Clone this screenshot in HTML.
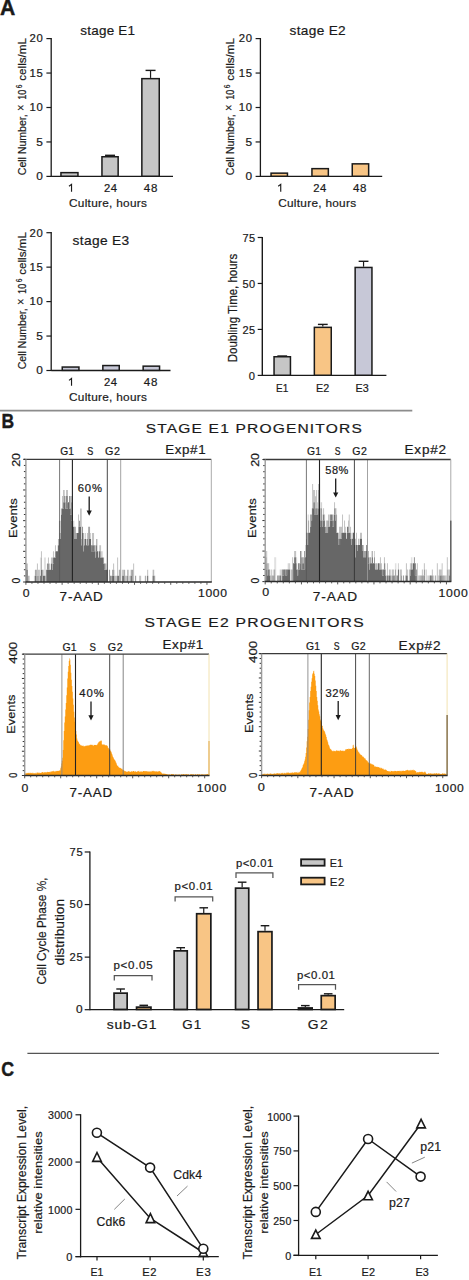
<!DOCTYPE html>
<html><head><meta charset="utf-8"><style>
html,body{margin:0;padding:0;background:#fff;}
svg{display:block;font-family:"Liberation Sans", sans-serif;}
text{stroke:#1a1a1a;stroke-width:0.2px;}
.hb text{stroke-width:0.2px;}
.b45 text{stroke-width:0.45px;}
.b40 text{stroke-width:0.4px;}
</style></head><body>
<svg width="469" height="1280" viewBox="0 0 469 1280">
<rect width="469" height="1280" fill="#fff"/>
<g class="b45">
<text x="0" y="15.4" font-size="22" fill="#1a1a1a" font-weight="bold" textLength="15.25" lengthAdjust="spacingAndGlyphs">A</text>
</g>
<line x1="51.2" y1="38" x2="51.2" y2="177" stroke="#1a1a1a" stroke-width="1.3"/>
<line x1="51.2" y1="176.4" x2="173" y2="176.4" stroke="#1a1a1a" stroke-width="1.3"/>
<line x1="46.4" y1="176.4" x2="51.2" y2="176.4" stroke="#1a1a1a" stroke-width="1.2"/>
<text x="36.2" y="180.2" font-size="10.5" fill="#1a1a1a" textLength="6.61" lengthAdjust="spacingAndGlyphs">0</text>
<line x1="46.4" y1="141.95" x2="51.2" y2="141.95" stroke="#1a1a1a" stroke-width="1.2"/>
<text x="36.2" y="145.75" font-size="10.5" fill="#1a1a1a" textLength="6.61" lengthAdjust="spacingAndGlyphs">5</text>
<line x1="46.4" y1="107.5" x2="51.2" y2="107.5" stroke="#1a1a1a" stroke-width="1.2"/>
<text x="29.6" y="111.3" font-size="10.5" fill="#1a1a1a" textLength="13.89" lengthAdjust="spacingAndGlyphs" letter-spacing="0.62">10</text>
<line x1="46.4" y1="73.05" x2="51.2" y2="73.05" stroke="#1a1a1a" stroke-width="1.2"/>
<text x="29.6" y="76.85" font-size="10.5" fill="#1a1a1a" textLength="13.89" lengthAdjust="spacingAndGlyphs" letter-spacing="0.62">15</text>
<line x1="46.4" y1="38.6" x2="51.2" y2="38.6" stroke="#1a1a1a" stroke-width="1.2"/>
<text x="29.6" y="42.4" font-size="10.5" fill="#1a1a1a" textLength="13.89" lengthAdjust="spacingAndGlyphs" letter-spacing="0.62">20</text>
<rect x="60.95" y="172.65" width="17" height="3.6" fill="#c6c6c6" stroke="#1a1a1a" stroke-width="1.5"/>
<line x1="110.05" y1="156" x2="110.05" y2="155.3" stroke="#1a1a1a" stroke-width="1.2"/>
<line x1="105.05" y1="155.3" x2="115.05" y2="155.3" stroke="#1a1a1a" stroke-width="1.4"/>
<rect x="101.95" y="156.75" width="16.2" height="19.5" fill="#c6c6c6" stroke="#1a1a1a" stroke-width="1.5"/>
<line x1="150.55" y1="77.9" x2="150.55" y2="70.4" stroke="#1a1a1a" stroke-width="1.2"/>
<line x1="145.55" y1="70.4" x2="155.55" y2="70.4" stroke="#1a1a1a" stroke-width="1.4"/>
<rect x="141.85" y="78.65" width="17.4" height="97.6" fill="#c6c6c6" stroke="#1a1a1a" stroke-width="1.5"/>
<path d="M71.53,191.7 V184.4 L69,186.3" fill="none" stroke="#1a1a1a" stroke-width="1.15" stroke-linejoin="miter"/>
<text x="104.1" y="191.7" font-size="10.6" fill="#1a1a1a" textLength="13.55" lengthAdjust="spacingAndGlyphs" letter-spacing="0.49">24</text>
<text x="143.7" y="191.7" font-size="10.6" fill="#1a1a1a" textLength="14.43" lengthAdjust="spacingAndGlyphs" letter-spacing="0.73">48</text>
<text x="69" y="206.7" font-size="11" fill="#1a1a1a" textLength="78.2" lengthAdjust="spacingAndGlyphs" letter-spacing="0.27">Culture, hours</text>
<text x="80.3" y="35" font-size="12.9" fill="#1a1a1a" textLength="54.96" lengthAdjust="spacingAndGlyphs" letter-spacing="0.22">stage E1</text>
<text transform="translate(25.7,175.2) rotate(-90)" x="-0" font-size="11.6" fill="#1a1a1a" textLength="60.9" lengthAdjust="spacingAndGlyphs">Cell Number,</text>
<text transform="translate(24.8,110.9) rotate(-90)" x="-0" font-size="12.5" fill="#1a1a1a" textLength="6.49" lengthAdjust="spacingAndGlyphs">×</text>
<text transform="translate(25.7,99.8) rotate(-90)" x="-0" font-size="11.6" fill="#1a1a1a" textLength="10.22" lengthAdjust="spacingAndGlyphs">10</text>
<text transform="translate(21.6,88.2) rotate(-90)" x="-0" font-size="8.6" fill="#1a1a1a" textLength="3.71" lengthAdjust="spacingAndGlyphs">6</text>
<text transform="translate(25.7,80.7) rotate(-90)" x="-0" font-size="11.6" fill="#1a1a1a" textLength="42.67" lengthAdjust="spacingAndGlyphs">cells/mL</text>
<line x1="260.4" y1="38" x2="260.4" y2="177" stroke="#1a1a1a" stroke-width="1.3"/>
<line x1="260.4" y1="176.4" x2="382.2" y2="176.4" stroke="#1a1a1a" stroke-width="1.3"/>
<line x1="255.6" y1="176.4" x2="260.4" y2="176.4" stroke="#1a1a1a" stroke-width="1.2"/>
<text x="245.4" y="180.2" font-size="10.5" fill="#1a1a1a" textLength="6.61" lengthAdjust="spacingAndGlyphs">0</text>
<line x1="255.6" y1="141.95" x2="260.4" y2="141.95" stroke="#1a1a1a" stroke-width="1.2"/>
<text x="245.4" y="145.75" font-size="10.5" fill="#1a1a1a" textLength="6.61" lengthAdjust="spacingAndGlyphs">5</text>
<line x1="255.6" y1="107.5" x2="260.4" y2="107.5" stroke="#1a1a1a" stroke-width="1.2"/>
<text x="238.8" y="111.3" font-size="10.5" fill="#1a1a1a" textLength="13.89" lengthAdjust="spacingAndGlyphs" letter-spacing="0.62">10</text>
<line x1="255.6" y1="73.05" x2="260.4" y2="73.05" stroke="#1a1a1a" stroke-width="1.2"/>
<text x="238.8" y="76.85" font-size="10.5" fill="#1a1a1a" textLength="13.89" lengthAdjust="spacingAndGlyphs" letter-spacing="0.62">15</text>
<line x1="255.6" y1="38.6" x2="260.4" y2="38.6" stroke="#1a1a1a" stroke-width="1.2"/>
<text x="238.8" y="42.4" font-size="10.5" fill="#1a1a1a" textLength="13.89" lengthAdjust="spacingAndGlyphs" letter-spacing="0.62">20</text>
<rect x="271.05" y="173.15" width="16.4" height="3.1" fill="#f8c585" stroke="#1a1a1a" stroke-width="1.5"/>
<rect x="311.95" y="168.65" width="16.4" height="7.6" fill="#f8c585" stroke="#1a1a1a" stroke-width="1.5"/>
<rect x="352.25" y="163.85" width="16.4" height="12.4" fill="#f8c585" stroke="#1a1a1a" stroke-width="1.5"/>
<path d="M280.73,191.7 V184.4 L278.2,186.3" fill="none" stroke="#1a1a1a" stroke-width="1.15" stroke-linejoin="miter"/>
<text x="313.3" y="191.7" font-size="10.6" fill="#1a1a1a" textLength="13.55" lengthAdjust="spacingAndGlyphs" letter-spacing="0.49">24</text>
<text x="352.9" y="191.7" font-size="10.6" fill="#1a1a1a" textLength="14.43" lengthAdjust="spacingAndGlyphs" letter-spacing="0.73">48</text>
<text x="278.2" y="206.7" font-size="11" fill="#1a1a1a" textLength="78.2" lengthAdjust="spacingAndGlyphs" letter-spacing="0.27">Culture, hours</text>
<text x="289.6" y="35" font-size="12.9" fill="#1a1a1a" textLength="56.45" lengthAdjust="spacingAndGlyphs" letter-spacing="0.3">stage E2</text>
<text transform="translate(234,175.2) rotate(-90)" x="-0" font-size="11.6" fill="#1a1a1a" textLength="60.9" lengthAdjust="spacingAndGlyphs">Cell Number,</text>
<text transform="translate(233.1,110.9) rotate(-90)" x="-0" font-size="12.5" fill="#1a1a1a" textLength="6.49" lengthAdjust="spacingAndGlyphs">×</text>
<text transform="translate(234,99.8) rotate(-90)" x="-0" font-size="11.6" fill="#1a1a1a" textLength="10.22" lengthAdjust="spacingAndGlyphs">10</text>
<text transform="translate(229.9,88.2) rotate(-90)" x="-0" font-size="8.6" fill="#1a1a1a" textLength="3.71" lengthAdjust="spacingAndGlyphs">6</text>
<text transform="translate(234,80.7) rotate(-90)" x="-0" font-size="11.6" fill="#1a1a1a" textLength="42.67" lengthAdjust="spacingAndGlyphs">cells/mL</text>
<line x1="51.2" y1="232.1" x2="51.2" y2="371.1" stroke="#1a1a1a" stroke-width="1.3"/>
<line x1="51.2" y1="370.5" x2="170.5" y2="370.5" stroke="#1a1a1a" stroke-width="1.3"/>
<line x1="46.4" y1="370.5" x2="51.2" y2="370.5" stroke="#1a1a1a" stroke-width="1.2"/>
<text x="36.2" y="374.3" font-size="10.5" fill="#1a1a1a" textLength="6.61" lengthAdjust="spacingAndGlyphs">0</text>
<line x1="46.4" y1="336.05" x2="51.2" y2="336.05" stroke="#1a1a1a" stroke-width="1.2"/>
<text x="36.2" y="339.85" font-size="10.5" fill="#1a1a1a" textLength="6.61" lengthAdjust="spacingAndGlyphs">5</text>
<line x1="46.4" y1="301.6" x2="51.2" y2="301.6" stroke="#1a1a1a" stroke-width="1.2"/>
<text x="29.6" y="305.4" font-size="10.5" fill="#1a1a1a" textLength="13.89" lengthAdjust="spacingAndGlyphs" letter-spacing="0.62">10</text>
<line x1="46.4" y1="267.15" x2="51.2" y2="267.15" stroke="#1a1a1a" stroke-width="1.2"/>
<text x="29.6" y="270.95" font-size="10.5" fill="#1a1a1a" textLength="13.89" lengthAdjust="spacingAndGlyphs" letter-spacing="0.62">15</text>
<line x1="46.4" y1="232.7" x2="51.2" y2="232.7" stroke="#1a1a1a" stroke-width="1.2"/>
<text x="29.6" y="236.5" font-size="10.5" fill="#1a1a1a" textLength="13.89" lengthAdjust="spacingAndGlyphs" letter-spacing="0.62">20</text>
<rect x="62.25" y="367.05" width="16.7" height="3.3" fill="#c7c8d7" stroke="#1a1a1a" stroke-width="1.5"/>
<rect x="102.85" y="365.55" width="16.4" height="4.8" fill="#c7c8d7" stroke="#1a1a1a" stroke-width="1.5"/>
<rect x="143.15" y="366.15" width="16.4" height="4.2" fill="#c7c8d7" stroke="#1a1a1a" stroke-width="1.5"/>
<path d="M71.53,385.8 V378.5 L69,380.4" fill="none" stroke="#1a1a1a" stroke-width="1.15" stroke-linejoin="miter"/>
<text x="104.1" y="385.8" font-size="10.6" fill="#1a1a1a" textLength="13.55" lengthAdjust="spacingAndGlyphs" letter-spacing="0.49">24</text>
<text x="143.7" y="385.8" font-size="10.6" fill="#1a1a1a" textLength="14.43" lengthAdjust="spacingAndGlyphs" letter-spacing="0.73">48</text>
<text x="69" y="400.8" font-size="11" fill="#1a1a1a" textLength="78.2" lengthAdjust="spacingAndGlyphs" letter-spacing="0.27">Culture, hours</text>
<text x="72.5" y="244.7" font-size="12.9" fill="#1a1a1a" textLength="57.09" lengthAdjust="spacingAndGlyphs" letter-spacing="0.33">stage E3</text>
<text transform="translate(25.7,369.3) rotate(-90)" x="-0" font-size="11.6" fill="#1a1a1a" textLength="60.9" lengthAdjust="spacingAndGlyphs">Cell Number,</text>
<text transform="translate(24.8,305) rotate(-90)" x="-0" font-size="12.5" fill="#1a1a1a" textLength="6.49" lengthAdjust="spacingAndGlyphs">×</text>
<text transform="translate(25.7,293.9) rotate(-90)" x="-0" font-size="11.6" fill="#1a1a1a" textLength="10.22" lengthAdjust="spacingAndGlyphs">10</text>
<text transform="translate(21.6,282.3) rotate(-90)" x="-0" font-size="8.6" fill="#1a1a1a" textLength="3.71" lengthAdjust="spacingAndGlyphs">6</text>
<text transform="translate(25.7,274.8) rotate(-90)" x="-0" font-size="11.6" fill="#1a1a1a" textLength="42.67" lengthAdjust="spacingAndGlyphs">cells/mL</text>
<line x1="262.3" y1="236.9" x2="262.3" y2="376" stroke="#1a1a1a" stroke-width="1.4"/>
<line x1="262.3" y1="375.4" x2="386.4" y2="375.4" stroke="#1a1a1a" stroke-width="1.3"/>
<line x1="257.7" y1="375.4" x2="262.3" y2="375.4" stroke="#1a1a1a" stroke-width="1.2"/>
<text x="248.8" y="379.8" font-size="10.8" fill="#1a1a1a" textLength="6.21" lengthAdjust="spacingAndGlyphs">0</text>
<line x1="257.7" y1="329.43" x2="262.3" y2="329.43" stroke="#1a1a1a" stroke-width="1.2"/>
<text x="242.6" y="333.83" font-size="10.8" fill="#1a1a1a" textLength="12.59" lengthAdjust="spacingAndGlyphs" letter-spacing="0.16">25</text>
<line x1="257.7" y1="283.46" x2="262.3" y2="283.46" stroke="#1a1a1a" stroke-width="1.2"/>
<text x="242.6" y="287.86" font-size="10.8" fill="#1a1a1a" textLength="12.59" lengthAdjust="spacingAndGlyphs" letter-spacing="0.16">50</text>
<line x1="257.7" y1="237.49" x2="262.3" y2="237.49" stroke="#1a1a1a" stroke-width="1.2"/>
<text x="242.6" y="241.89" font-size="10.8" fill="#1a1a1a" textLength="12.59" lengthAdjust="spacingAndGlyphs" letter-spacing="0.16">75</text>
<line x1="282.25" y1="356" x2="282.25" y2="356" stroke="#1a1a1a" stroke-width="1.2"/>
<line x1="277.35" y1="356" x2="287.15" y2="356" stroke="#1a1a1a" stroke-width="1.4"/>
<rect x="274.05" y="356.75" width="16.4" height="18.5" fill="#c6c6c6" stroke="#1a1a1a" stroke-width="1.5"/>
<line x1="322.8" y1="326.6" x2="322.8" y2="324.4" stroke="#1a1a1a" stroke-width="1.2"/>
<line x1="317.9" y1="324.4" x2="327.7" y2="324.4" stroke="#1a1a1a" stroke-width="1.4"/>
<rect x="314.35" y="327.35" width="16.9" height="47.9" fill="#f8c585" stroke="#1a1a1a" stroke-width="1.5"/>
<line x1="363.55" y1="266.7" x2="363.55" y2="261.3" stroke="#1a1a1a" stroke-width="1.2"/>
<line x1="358.65" y1="261.3" x2="368.45" y2="261.3" stroke="#1a1a1a" stroke-width="1.4"/>
<rect x="355.15" y="267.45" width="16.8" height="107.8" fill="#c7c8d7" stroke="#1a1a1a" stroke-width="1.5"/>
<text x="276" y="392.3" font-size="10.8" fill="#1a1a1a" textLength="12.28" lengthAdjust="spacingAndGlyphs">E1</text>
<text x="316.1" y="392.3" font-size="10.8" fill="#1a1a1a" textLength="13.18" lengthAdjust="spacingAndGlyphs">E2</text>
<text x="355.5" y="392.3" font-size="10.8" fill="#1a1a1a" textLength="13.18" lengthAdjust="spacingAndGlyphs">E3</text>
<text transform="translate(236.9,362.3) rotate(-90)" x="-0" font-size="12.6" fill="#1a1a1a" textLength="108.49" lengthAdjust="spacingAndGlyphs">Doubling Time, hours</text>
<line x1="0" y1="410.6" x2="412.3" y2="410.6" stroke="#8c8c8c" stroke-width="1.7"/>
<g class="b40">
<text x="1.5" y="427.5" font-size="20" fill="#1a1a1a" font-weight="bold" textLength="12.64" lengthAdjust="spacingAndGlyphs">B</text>
</g>
<g class="hb">
<text x="145.7" y="432.8" font-size="13.5" fill="#1a1a1a" textLength="217.28" lengthAdjust="spacingAndGlyphs" letter-spacing="1.01">STAGE E1 PROGENITORS</text>
<text x="144.6" y="627.2" font-size="13.5" fill="#1a1a1a" textLength="220.26" lengthAdjust="spacingAndGlyphs" letter-spacing="1.07">STAGE E2 PROGENITORS</text>
<path d="M49.95,563.6h1v6.13h-1zM74,520.65h1v6.13h-1zM84.03,532.92h1v6.13h-1zM118.1,569.73h1v6.13h-1zM144.16,575.87h1v6.13h-1zM148.16,575.87h1v6.13h-1z" fill="#676767" fill-opacity="0.1"/>
<path d="M39.93,569.73h1v6.13h-1zM39.93,563.6h1v6.13h-1zM39.93,557.46h1v6.13h-1zM43.94,569.73h1v6.13h-1zM43.94,563.6h1v6.13h-1zM43.94,557.46h1v6.13h-1zM44.94,569.73h1v6.13h-1zM44.94,563.6h1v6.13h-1zM44.94,557.46h1v6.13h-1zM56.97,545.19h1v6.13h-1zM97.05,545.19h1v6.13h-1zM97.05,539.05h1v6.13h-1zM102.06,551.33h1v6.13h-1zM106.07,563.6h1v6.13h-1zM114.09,569.73h1v6.13h-1zM130.12,569.73h1v6.13h-1zM152.17,569.73h1v6.13h-1z" fill="#676767" fill-opacity="0.2"/>
<path d="M28.91,575.87h1v6.13h-1zM33.92,575.87h1v6.13h-1zM42.94,569.73h1v6.13h-1zM59.97,526.78h1v6.13h-1zM59.97,520.65h1v6.13h-1zM63.98,489.98h1v6.13h-1zM64.98,496.11h1v6.13h-1zM73,520.65h1v6.13h-1zM81.02,532.92h1v6.13h-1zM81.02,526.78h1v6.13h-1zM81.02,520.65h1v6.13h-1zM81.02,514.51h1v6.13h-1zM81.02,508.38h1v6.13h-1zM85.03,532.92h1v6.13h-1zM86.03,539.05h1v6.13h-1zM90.04,532.92h1v6.13h-1zM98.06,551.33h1v6.13h-1zM99.06,545.19h1v6.13h-1zM101.06,551.33h1v6.13h-1zM120.1,575.87h1v6.13h-1zM120.1,569.73h1v6.13h-1zM128.12,575.87h1v6.13h-1zM128.12,569.73h1v6.13h-1zM129.12,575.87h1v6.13h-1z" fill="#676767" fill-opacity="0.3"/>
<path d="M25.9,563.6h1v6.13h-1zM26.9,563.6h1v6.13h-1zM36.92,569.73h1v6.13h-1zM36.92,563.6h1v6.13h-1zM37.93,569.73h1v6.13h-1zM38.93,575.87h1v6.13h-1zM38.93,569.73h1v6.13h-1zM40.93,551.33h1v6.13h-1zM47.95,557.46h1v6.13h-1zM48.95,563.6h1v6.13h-1zM50.95,557.46h1v6.13h-1zM51.96,557.46h1v6.13h-1zM52.96,551.33h1v6.13h-1zM54.96,545.19h1v6.13h-1zM61.98,502.25h1v6.13h-1zM61.98,496.11h1v6.13h-1zM62.98,496.11h1v6.13h-1zM62.98,489.98h1v6.13h-1zM65.99,489.98h1v6.13h-1zM66.99,489.98h1v6.13h-1zM70,502.25h1v6.13h-1zM70,496.11h1v6.13h-1zM71,496.11h1v6.13h-1zM78.01,520.65h1v6.13h-1zM78.01,514.51h1v6.13h-1zM80.02,520.65h1v6.13h-1zM80.02,514.51h1v6.13h-1zM80.02,508.38h1v6.13h-1zM87.03,532.92h1v6.13h-1zM92.04,539.05h1v6.13h-1zM92.04,532.92h1v6.13h-1zM93.04,539.05h1v6.13h-1zM93.04,532.92h1v6.13h-1zM95.05,545.19h1v6.13h-1zM100.06,545.19h1v6.13h-1zM113.09,563.6h1v6.13h-1zM115.09,575.87h1v6.13h-1zM116.09,575.87h1v6.13h-1zM117.1,569.73h1v6.13h-1zM117.1,563.6h1v6.13h-1zM117.1,557.46h1v6.13h-1zM122.11,569.73h1v6.13h-1zM123.11,569.73h1v6.13h-1zM125.11,575.87h1v6.13h-1zM126.12,575.87h1v6.13h-1zM133.13,575.87h1v6.13h-1zM133.13,569.73h1v6.13h-1zM133.13,563.6h1v6.13h-1zM139.14,575.87h1v6.13h-1zM140.15,575.87h1v6.13h-1zM147.16,569.73h1v6.13h-1z" fill="#676767" fill-opacity="0.4"/>
<path d="M27.9,575.87h1v6.13h-1zM35.92,569.73h1v6.13h-1zM40.93,563.6h1v6.13h-1zM40.93,557.46h1v6.13h-1zM44.94,575.87h1v6.13h-1zM57.97,539.05h1v6.13h-1zM75.01,526.78h1v6.13h-1zM83.02,539.05h1v6.13h-1zM83.02,532.92h1v6.13h-1zM84.03,539.05h1v6.13h-1zM88.03,539.05h1v6.13h-1zM88.03,532.92h1v6.13h-1zM88.03,526.78h1v6.13h-1zM96.05,539.05h1v6.13h-1zM105.07,563.6h1v6.13h-1zM114.09,575.87h1v6.13h-1zM127.12,569.73h1v6.13h-1zM152.17,575.87h1v6.13h-1zM153.17,569.73h1v6.13h-1z" fill="#676767" fill-opacity="0.5"/>
<path d="M34.92,569.73h1v6.13h-1zM35.92,575.87h1v6.13h-1zM36.92,575.87h1v6.13h-1zM37.93,575.87h1v6.13h-1zM41.93,575.87h1v6.13h-1zM41.93,569.73h1v6.13h-1zM51.96,563.6h1v6.13h-1zM59.97,532.92h1v6.13h-1zM60.98,508.38h1v6.13h-1zM64.98,502.25h1v6.13h-1zM74,532.92h1v6.13h-1zM74,526.78h1v6.13h-1zM75.01,532.92h1v6.13h-1zM76.01,532.92h1v6.13h-1zM78.01,526.78h1v6.13h-1zM81.02,539.05h1v6.13h-1zM83.02,545.19h1v6.13h-1zM89.04,532.92h1v6.13h-1zM89.04,526.78h1v6.13h-1zM95.05,551.33h1v6.13h-1zM100.06,551.33h1v6.13h-1zM107.08,575.87h1v6.13h-1zM107.08,569.73h1v6.13h-1zM111.08,575.87h1v6.13h-1zM112.09,569.73h1v6.13h-1zM113.09,569.73h1v6.13h-1zM119.1,575.87h1v6.13h-1zM119.1,569.73h1v6.13h-1zM124.11,575.87h1v6.13h-1zM124.11,569.73h1v6.13h-1zM130.12,575.87h1v6.13h-1zM131.13,569.73h1v6.13h-1zM132.13,575.87h1v6.13h-1zM132.13,569.73h1v6.13h-1zM145.16,575.87h1v6.13h-1zM154.18,575.87h1v6.13h-1z" fill="#676767" fill-opacity="0.6"/>
<path d="M46.95,563.6h1v6.13h-1zM47.95,563.6h1v6.13h-1zM54.96,551.33h1v6.13h-1zM58.97,526.78h1v6.13h-1zM58.97,520.65h1v6.13h-1zM63.98,496.11h1v6.13h-1zM66.99,496.11h1v6.13h-1zM68.99,502.25h1v6.13h-1zM68.99,496.11h1v6.13h-1zM71,508.38h1v6.13h-1zM71,502.25h1v6.13h-1zM72,514.51h1v6.13h-1zM79.01,520.65h1v6.13h-1zM82.02,526.78h1v6.13h-1zM94.05,545.19h1v6.13h-1zM103.07,557.46h1v6.13h-1zM109.08,575.87h1v6.13h-1zM109.08,569.73h1v6.13h-1zM135.14,575.87h1v6.13h-1z" fill="#676767" fill-opacity="0.7"/>
<path d="M26.9,575.87h1v6.13h-1zM26.9,569.73h1v6.13h-1zM45.94,575.87h1v6.13h-1zM45.94,569.73h1v6.13h-1zM58.97,532.92h1v6.13h-1zM62.98,502.25h1v6.13h-1zM65.99,502.25h1v6.13h-1zM65.99,496.11h1v6.13h-1zM66.99,502.25h1v6.13h-1zM70,508.38h1v6.13h-1zM87.03,539.05h1v6.13h-1zM91.04,545.19h1v6.13h-1zM104.07,563.6h1v6.13h-1zM110.08,575.87h1v6.13h-1zM127.12,575.87h1v6.13h-1z" fill="#676767" fill-opacity="0.8"/>
<path d="M39.93,575.87h1v6.13h-1zM52.96,557.46h1v6.13h-1zM71,514.51h1v6.13h-1zM92.04,545.19h1v6.13h-1zM93.04,545.19h1v6.13h-1zM96.05,545.19h1v6.13h-1zM117.1,575.87h1v6.13h-1zM122.11,575.87h1v6.13h-1z" fill="#676767" fill-opacity="0.9"/>
<path d="M25.9,575.87h1v6.13h-1zM25.9,569.73h1v6.13h-1zM34.92,575.87h1v6.13h-1zM40.93,575.87h1v6.13h-1zM40.93,569.73h1v6.13h-1zM42.94,575.87h1v6.13h-1zM43.94,575.87h1v6.13h-1zM46.95,575.87h1v6.13h-1zM46.95,569.73h1v6.13h-1zM47.95,575.87h1v6.13h-1zM47.95,569.73h1v6.13h-1zM48.95,575.87h1v6.13h-1zM48.95,569.73h1v6.13h-1zM49.95,575.87h1v6.13h-1zM49.95,569.73h1v6.13h-1zM50.95,575.87h1v6.13h-1zM50.95,569.73h1v6.13h-1zM50.95,563.6h1v6.13h-1zM51.96,575.87h1v6.13h-1zM51.96,569.73h1v6.13h-1zM52.96,575.87h1v6.13h-1zM52.96,569.73h1v6.13h-1zM52.96,563.6h1v6.13h-1zM53.96,575.87h1v6.13h-1zM53.96,569.73h1v6.13h-1zM53.96,563.6h1v6.13h-1zM53.96,557.46h1v6.13h-1zM54.96,575.87h1v6.13h-1zM54.96,569.73h1v6.13h-1zM54.96,563.6h1v6.13h-1zM54.96,557.46h1v6.13h-1zM55.96,575.87h1v6.13h-1zM55.96,569.73h1v6.13h-1zM55.96,563.6h1v6.13h-1zM55.96,557.46h1v6.13h-1zM55.96,551.33h1v6.13h-1zM56.97,575.87h1v6.13h-1zM56.97,569.73h1v6.13h-1zM56.97,563.6h1v6.13h-1zM56.97,557.46h1v6.13h-1zM56.97,551.33h1v6.13h-1zM57.97,575.87h1v6.13h-1zM57.97,569.73h1v6.13h-1zM57.97,563.6h1v6.13h-1zM57.97,557.46h1v6.13h-1zM57.97,551.33h1v6.13h-1zM57.97,545.19h1v6.13h-1zM58.97,575.87h1v6.13h-1zM58.97,569.73h1v6.13h-1zM58.97,563.6h1v6.13h-1zM58.97,557.46h1v6.13h-1zM58.97,551.33h1v6.13h-1zM58.97,545.19h1v6.13h-1zM58.97,539.05h1v6.13h-1zM59.97,575.87h1v6.13h-1zM59.97,569.73h1v6.13h-1zM59.97,563.6h1v6.13h-1zM59.97,557.46h1v6.13h-1zM59.97,551.33h1v6.13h-1zM59.97,545.19h1v6.13h-1zM59.97,539.05h1v6.13h-1zM60.98,575.87h1v6.13h-1zM60.98,569.73h1v6.13h-1zM60.98,563.6h1v6.13h-1zM60.98,557.46h1v6.13h-1zM60.98,551.33h1v6.13h-1zM60.98,545.19h1v6.13h-1zM60.98,539.05h1v6.13h-1zM60.98,532.92h1v6.13h-1zM60.98,526.78h1v6.13h-1zM60.98,520.65h1v6.13h-1zM60.98,514.51h1v6.13h-1zM61.98,575.87h1v6.13h-1zM61.98,569.73h1v6.13h-1zM61.98,563.6h1v6.13h-1zM61.98,557.46h1v6.13h-1zM61.98,551.33h1v6.13h-1zM61.98,545.19h1v6.13h-1zM61.98,539.05h1v6.13h-1zM61.98,532.92h1v6.13h-1zM61.98,526.78h1v6.13h-1zM61.98,520.65h1v6.13h-1zM61.98,514.51h1v6.13h-1zM61.98,508.38h1v6.13h-1zM62.98,575.87h1v6.13h-1zM62.98,569.73h1v6.13h-1zM62.98,563.6h1v6.13h-1zM62.98,557.46h1v6.13h-1zM62.98,551.33h1v6.13h-1zM62.98,545.19h1v6.13h-1zM62.98,539.05h1v6.13h-1zM62.98,532.92h1v6.13h-1zM62.98,526.78h1v6.13h-1zM62.98,520.65h1v6.13h-1zM62.98,514.51h1v6.13h-1zM62.98,508.38h1v6.13h-1zM63.98,575.87h1v6.13h-1zM63.98,569.73h1v6.13h-1zM63.98,563.6h1v6.13h-1zM63.98,557.46h1v6.13h-1zM63.98,551.33h1v6.13h-1zM63.98,545.19h1v6.13h-1zM63.98,539.05h1v6.13h-1zM63.98,532.92h1v6.13h-1zM63.98,526.78h1v6.13h-1zM63.98,520.65h1v6.13h-1zM63.98,514.51h1v6.13h-1zM63.98,508.38h1v6.13h-1zM63.98,502.25h1v6.13h-1zM64.98,575.87h1v6.13h-1zM64.98,569.73h1v6.13h-1zM64.98,563.6h1v6.13h-1zM64.98,557.46h1v6.13h-1zM64.98,551.33h1v6.13h-1zM64.98,545.19h1v6.13h-1zM64.98,539.05h1v6.13h-1zM64.98,532.92h1v6.13h-1zM64.98,526.78h1v6.13h-1zM64.98,520.65h1v6.13h-1zM64.98,514.51h1v6.13h-1zM64.98,508.38h1v6.13h-1zM65.99,575.87h1v6.13h-1zM65.99,569.73h1v6.13h-1zM65.99,563.6h1v6.13h-1zM65.99,557.46h1v6.13h-1zM65.99,551.33h1v6.13h-1zM65.99,545.19h1v6.13h-1zM65.99,539.05h1v6.13h-1zM65.99,532.92h1v6.13h-1zM65.99,526.78h1v6.13h-1zM65.99,520.65h1v6.13h-1zM65.99,514.51h1v6.13h-1zM65.99,508.38h1v6.13h-1zM66.99,575.87h1v6.13h-1zM66.99,569.73h1v6.13h-1zM66.99,563.6h1v6.13h-1zM66.99,557.46h1v6.13h-1zM66.99,551.33h1v6.13h-1zM66.99,545.19h1v6.13h-1zM66.99,539.05h1v6.13h-1zM66.99,532.92h1v6.13h-1zM66.99,526.78h1v6.13h-1zM66.99,520.65h1v6.13h-1zM66.99,514.51h1v6.13h-1zM66.99,508.38h1v6.13h-1zM67.99,575.87h1v6.13h-1zM67.99,569.73h1v6.13h-1zM67.99,563.6h1v6.13h-1zM67.99,557.46h1v6.13h-1zM67.99,551.33h1v6.13h-1zM67.99,545.19h1v6.13h-1zM67.99,539.05h1v6.13h-1zM67.99,532.92h1v6.13h-1zM67.99,526.78h1v6.13h-1zM67.99,520.65h1v6.13h-1zM67.99,514.51h1v6.13h-1zM67.99,508.38h1v6.13h-1zM67.99,502.25h1v6.13h-1zM68.99,575.87h1v6.13h-1zM68.99,569.73h1v6.13h-1zM68.99,563.6h1v6.13h-1zM68.99,557.46h1v6.13h-1zM68.99,551.33h1v6.13h-1zM68.99,545.19h1v6.13h-1zM68.99,539.05h1v6.13h-1zM68.99,532.92h1v6.13h-1zM68.99,526.78h1v6.13h-1zM68.99,520.65h1v6.13h-1zM68.99,514.51h1v6.13h-1zM68.99,508.38h1v6.13h-1zM70,575.87h1v6.13h-1zM70,569.73h1v6.13h-1zM70,563.6h1v6.13h-1zM70,557.46h1v6.13h-1zM70,551.33h1v6.13h-1zM70,545.19h1v6.13h-1zM70,539.05h1v6.13h-1zM70,532.92h1v6.13h-1zM70,526.78h1v6.13h-1zM70,520.65h1v6.13h-1zM70,514.51h1v6.13h-1zM71,575.87h1v6.13h-1zM71,569.73h1v6.13h-1zM71,563.6h1v6.13h-1zM71,557.46h1v6.13h-1zM71,551.33h1v6.13h-1zM71,545.19h1v6.13h-1zM71,539.05h1v6.13h-1zM71,532.92h1v6.13h-1zM71,526.78h1v6.13h-1zM71,520.65h1v6.13h-1zM72,575.87h1v6.13h-1zM72,569.73h1v6.13h-1zM72,563.6h1v6.13h-1zM72,557.46h1v6.13h-1zM72,551.33h1v6.13h-1zM72,545.19h1v6.13h-1zM72,539.05h1v6.13h-1zM72,532.92h1v6.13h-1zM72,526.78h1v6.13h-1zM72,520.65h1v6.13h-1zM73,575.87h1v6.13h-1zM73,569.73h1v6.13h-1zM73,563.6h1v6.13h-1zM73,557.46h1v6.13h-1zM73,551.33h1v6.13h-1zM73,545.19h1v6.13h-1zM73,539.05h1v6.13h-1zM73,532.92h1v6.13h-1zM73,526.78h1v6.13h-1zM74,575.87h1v6.13h-1zM74,569.73h1v6.13h-1zM74,563.6h1v6.13h-1zM74,557.46h1v6.13h-1zM74,551.33h1v6.13h-1zM74,545.19h1v6.13h-1zM74,539.05h1v6.13h-1zM75.01,575.87h1v6.13h-1zM75.01,569.73h1v6.13h-1zM75.01,563.6h1v6.13h-1zM75.01,557.46h1v6.13h-1zM75.01,551.33h1v6.13h-1zM75.01,545.19h1v6.13h-1zM75.01,539.05h1v6.13h-1zM76.01,575.87h1v6.13h-1zM76.01,569.73h1v6.13h-1zM76.01,563.6h1v6.13h-1zM76.01,557.46h1v6.13h-1zM76.01,551.33h1v6.13h-1zM76.01,545.19h1v6.13h-1zM76.01,539.05h1v6.13h-1zM77.01,575.87h1v6.13h-1zM77.01,569.73h1v6.13h-1zM77.01,563.6h1v6.13h-1zM77.01,557.46h1v6.13h-1zM77.01,551.33h1v6.13h-1zM77.01,545.19h1v6.13h-1zM77.01,539.05h1v6.13h-1zM77.01,532.92h1v6.13h-1zM78.01,575.87h1v6.13h-1zM78.01,569.73h1v6.13h-1zM78.01,563.6h1v6.13h-1zM78.01,557.46h1v6.13h-1zM78.01,551.33h1v6.13h-1zM78.01,545.19h1v6.13h-1zM78.01,539.05h1v6.13h-1zM78.01,532.92h1v6.13h-1zM79.01,575.87h1v6.13h-1zM79.01,569.73h1v6.13h-1zM79.01,563.6h1v6.13h-1zM79.01,557.46h1v6.13h-1zM79.01,551.33h1v6.13h-1zM79.01,545.19h1v6.13h-1zM79.01,539.05h1v6.13h-1zM79.01,532.92h1v6.13h-1zM79.01,526.78h1v6.13h-1zM80.02,575.87h1v6.13h-1zM80.02,569.73h1v6.13h-1zM80.02,563.6h1v6.13h-1zM80.02,557.46h1v6.13h-1zM80.02,551.33h1v6.13h-1zM80.02,545.19h1v6.13h-1zM80.02,539.05h1v6.13h-1zM80.02,532.92h1v6.13h-1zM80.02,526.78h1v6.13h-1zM81.02,575.87h1v6.13h-1zM81.02,569.73h1v6.13h-1zM81.02,563.6h1v6.13h-1zM81.02,557.46h1v6.13h-1zM81.02,551.33h1v6.13h-1zM81.02,545.19h1v6.13h-1zM82.02,575.87h1v6.13h-1zM82.02,569.73h1v6.13h-1zM82.02,563.6h1v6.13h-1zM82.02,557.46h1v6.13h-1zM82.02,551.33h1v6.13h-1zM82.02,545.19h1v6.13h-1zM82.02,539.05h1v6.13h-1zM82.02,532.92h1v6.13h-1zM83.02,575.87h1v6.13h-1zM83.02,569.73h1v6.13h-1zM83.02,563.6h1v6.13h-1zM83.02,557.46h1v6.13h-1zM83.02,551.33h1v6.13h-1zM84.03,575.87h1v6.13h-1zM84.03,569.73h1v6.13h-1zM84.03,563.6h1v6.13h-1zM84.03,557.46h1v6.13h-1zM84.03,551.33h1v6.13h-1zM84.03,545.19h1v6.13h-1zM85.03,575.87h1v6.13h-1zM85.03,569.73h1v6.13h-1zM85.03,563.6h1v6.13h-1zM85.03,557.46h1v6.13h-1zM85.03,551.33h1v6.13h-1zM85.03,545.19h1v6.13h-1zM85.03,539.05h1v6.13h-1zM86.03,575.87h1v6.13h-1zM86.03,569.73h1v6.13h-1zM86.03,563.6h1v6.13h-1zM86.03,557.46h1v6.13h-1zM86.03,551.33h1v6.13h-1zM86.03,545.19h1v6.13h-1zM87.03,575.87h1v6.13h-1zM87.03,569.73h1v6.13h-1zM87.03,563.6h1v6.13h-1zM87.03,557.46h1v6.13h-1zM87.03,551.33h1v6.13h-1zM87.03,545.19h1v6.13h-1zM88.03,575.87h1v6.13h-1zM88.03,569.73h1v6.13h-1zM88.03,563.6h1v6.13h-1zM88.03,557.46h1v6.13h-1zM88.03,551.33h1v6.13h-1zM88.03,545.19h1v6.13h-1zM89.04,575.87h1v6.13h-1zM89.04,569.73h1v6.13h-1zM89.04,563.6h1v6.13h-1zM89.04,557.46h1v6.13h-1zM89.04,551.33h1v6.13h-1zM89.04,545.19h1v6.13h-1zM89.04,539.05h1v6.13h-1zM90.04,575.87h1v6.13h-1zM90.04,569.73h1v6.13h-1zM90.04,563.6h1v6.13h-1zM90.04,557.46h1v6.13h-1zM90.04,551.33h1v6.13h-1zM90.04,545.19h1v6.13h-1zM90.04,539.05h1v6.13h-1zM91.04,575.87h1v6.13h-1zM91.04,569.73h1v6.13h-1zM91.04,563.6h1v6.13h-1zM91.04,557.46h1v6.13h-1zM91.04,551.33h1v6.13h-1zM92.04,575.87h1v6.13h-1zM92.04,569.73h1v6.13h-1zM92.04,563.6h1v6.13h-1zM92.04,557.46h1v6.13h-1zM92.04,551.33h1v6.13h-1zM93.04,575.87h1v6.13h-1zM93.04,569.73h1v6.13h-1zM93.04,563.6h1v6.13h-1zM93.04,557.46h1v6.13h-1zM93.04,551.33h1v6.13h-1zM94.05,575.87h1v6.13h-1zM94.05,569.73h1v6.13h-1zM94.05,563.6h1v6.13h-1zM94.05,557.46h1v6.13h-1zM94.05,551.33h1v6.13h-1zM95.05,575.87h1v6.13h-1zM95.05,569.73h1v6.13h-1zM95.05,563.6h1v6.13h-1zM95.05,557.46h1v6.13h-1zM96.05,575.87h1v6.13h-1zM96.05,569.73h1v6.13h-1zM96.05,563.6h1v6.13h-1zM96.05,557.46h1v6.13h-1zM96.05,551.33h1v6.13h-1zM97.05,575.87h1v6.13h-1zM97.05,569.73h1v6.13h-1zM97.05,563.6h1v6.13h-1zM97.05,557.46h1v6.13h-1zM97.05,551.33h1v6.13h-1zM98.06,575.87h1v6.13h-1zM98.06,569.73h1v6.13h-1zM98.06,563.6h1v6.13h-1zM98.06,557.46h1v6.13h-1zM99.06,575.87h1v6.13h-1zM99.06,569.73h1v6.13h-1zM99.06,563.6h1v6.13h-1zM99.06,557.46h1v6.13h-1zM99.06,551.33h1v6.13h-1zM100.06,575.87h1v6.13h-1zM100.06,569.73h1v6.13h-1zM100.06,563.6h1v6.13h-1zM100.06,557.46h1v6.13h-1zM101.06,575.87h1v6.13h-1zM101.06,569.73h1v6.13h-1zM101.06,563.6h1v6.13h-1zM101.06,557.46h1v6.13h-1zM102.06,575.87h1v6.13h-1zM102.06,569.73h1v6.13h-1zM102.06,563.6h1v6.13h-1zM102.06,557.46h1v6.13h-1zM103.07,575.87h1v6.13h-1zM103.07,569.73h1v6.13h-1zM103.07,563.6h1v6.13h-1zM104.07,575.87h1v6.13h-1zM104.07,569.73h1v6.13h-1zM105.07,575.87h1v6.13h-1zM105.07,569.73h1v6.13h-1zM106.07,575.87h1v6.13h-1zM106.07,569.73h1v6.13h-1zM112.09,575.87h1v6.13h-1zM113.09,575.87h1v6.13h-1zM118.1,575.87h1v6.13h-1zM123.11,575.87h1v6.13h-1zM131.13,575.87h1v6.13h-1zM147.16,575.87h1v6.13h-1zM153.17,575.87h1v6.13h-1z" fill="#676767" fill-opacity="1"/>
<line x1="59.6" y1="459.3" x2="59.6" y2="582" stroke="#555" stroke-width="0.8"/>
<line x1="72.4" y1="459.3" x2="72.4" y2="582" stroke="#222" stroke-width="1.1"/>
<line x1="107.3" y1="459.3" x2="107.3" y2="582" stroke="#333" stroke-width="0.9"/>
<line x1="120.7" y1="459.3" x2="120.7" y2="582" stroke="#999" stroke-width="0.9"/>
<line x1="23.9" y1="459.3" x2="211.3" y2="459.3" stroke="#3a3a3a" stroke-width="1.3"/>
<line x1="211.3" y1="459.3" x2="211.3" y2="582" stroke="#aaaaaa" stroke-width="1"/>
<line x1="25.9" y1="459.3" x2="25.9" y2="582.5" stroke="#9a9a9a" stroke-width="1.4"/>
<line x1="25.4" y1="582" x2="211.8" y2="582" stroke="#2a2a2a" stroke-width="1.5"/>
<line x1="23.1" y1="582" x2="25.3" y2="582" stroke="#333" stroke-width="1"/>
<line x1="23.9" y1="575.87" x2="25.3" y2="575.87" stroke="#333" stroke-width="1"/>
<line x1="23.9" y1="569.73" x2="25.3" y2="569.73" stroke="#333" stroke-width="1"/>
<line x1="23.9" y1="563.6" x2="25.3" y2="563.6" stroke="#333" stroke-width="1"/>
<line x1="23.9" y1="557.46" x2="25.3" y2="557.46" stroke="#333" stroke-width="1"/>
<line x1="23.1" y1="551.33" x2="25.3" y2="551.33" stroke="#333" stroke-width="1"/>
<line x1="23.9" y1="545.19" x2="25.3" y2="545.19" stroke="#333" stroke-width="1"/>
<line x1="23.9" y1="539.06" x2="25.3" y2="539.06" stroke="#333" stroke-width="1"/>
<line x1="23.9" y1="532.92" x2="25.3" y2="532.92" stroke="#333" stroke-width="1"/>
<line x1="23.9" y1="526.78" x2="25.3" y2="526.78" stroke="#333" stroke-width="1"/>
<line x1="23.1" y1="520.65" x2="25.3" y2="520.65" stroke="#333" stroke-width="1"/>
<line x1="23.9" y1="514.51" x2="25.3" y2="514.51" stroke="#333" stroke-width="1"/>
<line x1="23.9" y1="508.38" x2="25.3" y2="508.38" stroke="#333" stroke-width="1"/>
<line x1="23.9" y1="502.25" x2="25.3" y2="502.25" stroke="#333" stroke-width="1"/>
<line x1="23.9" y1="496.11" x2="25.3" y2="496.11" stroke="#333" stroke-width="1"/>
<line x1="23.1" y1="489.98" x2="25.3" y2="489.98" stroke="#333" stroke-width="1"/>
<line x1="23.9" y1="483.84" x2="25.3" y2="483.84" stroke="#333" stroke-width="1"/>
<line x1="23.9" y1="477.71" x2="25.3" y2="477.71" stroke="#333" stroke-width="1"/>
<line x1="23.9" y1="471.57" x2="25.3" y2="471.57" stroke="#333" stroke-width="1"/>
<line x1="23.9" y1="465.44" x2="25.3" y2="465.44" stroke="#333" stroke-width="1"/>
<line x1="23.1" y1="459.3" x2="25.3" y2="459.3" stroke="#333" stroke-width="1"/>
<line x1="25.9" y1="582" x2="25.9" y2="584.8" stroke="#444" stroke-width="0.9"/>
<line x1="31.94" y1="582" x2="31.94" y2="583.8" stroke="#444" stroke-width="0.9"/>
<line x1="37.97" y1="582" x2="37.97" y2="583.8" stroke="#444" stroke-width="0.9"/>
<line x1="44.01" y1="582" x2="44.01" y2="583.8" stroke="#444" stroke-width="0.9"/>
<line x1="50.04" y1="582" x2="50.04" y2="583.8" stroke="#444" stroke-width="0.9"/>
<line x1="56.08" y1="582" x2="56.08" y2="583.8" stroke="#444" stroke-width="0.9"/>
<line x1="62.11" y1="582" x2="62.11" y2="584.8" stroke="#444" stroke-width="0.9"/>
<line x1="68.15" y1="582" x2="68.15" y2="583.8" stroke="#444" stroke-width="0.9"/>
<line x1="74.18" y1="582" x2="74.18" y2="583.8" stroke="#444" stroke-width="0.9"/>
<line x1="80.22" y1="582" x2="80.22" y2="583.8" stroke="#444" stroke-width="0.9"/>
<line x1="86.25" y1="582" x2="86.25" y2="583.8" stroke="#444" stroke-width="0.9"/>
<line x1="92.29" y1="582" x2="92.29" y2="583.8" stroke="#444" stroke-width="0.9"/>
<line x1="98.32" y1="582" x2="98.32" y2="584.8" stroke="#444" stroke-width="0.9"/>
<line x1="104.36" y1="582" x2="104.36" y2="583.8" stroke="#444" stroke-width="0.9"/>
<line x1="110.39" y1="582" x2="110.39" y2="583.8" stroke="#444" stroke-width="0.9"/>
<line x1="116.43" y1="582" x2="116.43" y2="583.8" stroke="#444" stroke-width="0.9"/>
<line x1="122.46" y1="582" x2="122.46" y2="583.8" stroke="#444" stroke-width="0.9"/>
<line x1="128.5" y1="582" x2="128.5" y2="583.8" stroke="#444" stroke-width="0.9"/>
<line x1="134.53" y1="582" x2="134.53" y2="584.8" stroke="#444" stroke-width="0.9"/>
<line x1="140.57" y1="582" x2="140.57" y2="583.8" stroke="#444" stroke-width="0.9"/>
<line x1="146.6" y1="582" x2="146.6" y2="583.8" stroke="#444" stroke-width="0.9"/>
<line x1="152.64" y1="582" x2="152.64" y2="583.8" stroke="#444" stroke-width="0.9"/>
<line x1="158.67" y1="582" x2="158.67" y2="583.8" stroke="#444" stroke-width="0.9"/>
<line x1="164.71" y1="582" x2="164.71" y2="583.8" stroke="#444" stroke-width="0.9"/>
<line x1="170.74" y1="582" x2="170.74" y2="584.8" stroke="#444" stroke-width="0.9"/>
<line x1="176.78" y1="582" x2="176.78" y2="583.8" stroke="#444" stroke-width="0.9"/>
<line x1="182.81" y1="582" x2="182.81" y2="583.8" stroke="#444" stroke-width="0.9"/>
<line x1="188.85" y1="582" x2="188.85" y2="583.8" stroke="#444" stroke-width="0.9"/>
<line x1="194.88" y1="582" x2="194.88" y2="583.8" stroke="#444" stroke-width="0.9"/>
<line x1="200.92" y1="582" x2="200.92" y2="583.8" stroke="#444" stroke-width="0.9"/>
<line x1="206.95" y1="582" x2="206.95" y2="584.8" stroke="#444" stroke-width="0.9"/>
<text x="60.3" y="454.6" font-size="10.2" fill="#1a1a1a" textLength="13.86" lengthAdjust="spacingAndGlyphs" letter-spacing="0.07">G1</text>
<text x="87.3" y="454.6" font-size="10.2" fill="#1a1a1a" textLength="6.02" lengthAdjust="spacingAndGlyphs">S</text>
<text x="105" y="454.6" font-size="10.2" fill="#1a1a1a" textLength="15.57" lengthAdjust="spacingAndGlyphs" letter-spacing="0.55">G2</text>
<text x="165.2" y="454.1" font-size="12.2" fill="#1a1a1a" textLength="41.04" lengthAdjust="spacingAndGlyphs" letter-spacing="0.58">Exp#1</text>
<text x="77.7" y="491.9" font-size="10.2" fill="#1a1a1a" textLength="25.06" lengthAdjust="spacingAndGlyphs" letter-spacing="0.76">60%</text>
<line x1="89.2" y1="496.6" x2="89.2" y2="511.8" stroke="#1a1a1a" stroke-width="1.3"/>
<path d="M86.6,510.6 L91.8,510.6 L89.2,515.8 Z" fill="#1a1a1a"/>
<text transform="translate(19.8,466.8) rotate(-90)" x="-0" font-size="11" fill="#1a1a1a" textLength="13.83" lengthAdjust="spacingAndGlyphs">20</text>
<text transform="translate(16.9,538) rotate(-90)" x="-0" font-size="11.6" fill="#1a1a1a" textLength="39.73" lengthAdjust="spacingAndGlyphs">Events</text>
<text transform="translate(20,583.6) rotate(-90)" x="-0" font-size="11" fill="#1a1a1a" textLength="5.81" lengthAdjust="spacingAndGlyphs">0</text>
<text x="22.8" y="596.5" font-size="11" fill="#1a1a1a" textLength="6.81" lengthAdjust="spacingAndGlyphs">0</text>
<text x="59.6" y="600.7" font-size="12" fill="#1a1a1a" textLength="44.09" lengthAdjust="spacingAndGlyphs" letter-spacing="0.79">7-AAD</text>
<text x="198" y="596.5" font-size="11" fill="#1a1a1a" textLength="29.66" lengthAdjust="spacingAndGlyphs" letter-spacing="0.6">1000</text>
<path d="M279.17,569.39h1v6.11h-1zM287.15,563.28h1v6.11h-1zM290.15,575.5h1v6.11h-1zM290.15,569.39h1v6.11h-1zM307.11,526.65h1v6.11h-1zM307.11,520.55h1v6.11h-1zM307.11,514.45h1v6.11h-1zM311.1,508.34h1v6.11h-1zM320.08,502.24h1v6.11h-1zM348.02,514.45h1v6.11h-1zM390.93,569.39h1v6.11h-1zM395.92,569.39h1v6.11h-1zM395.92,563.28h1v6.11h-1zM398.91,575.5h1v6.11h-1zM398.91,569.39h1v6.11h-1zM411.88,557.18h1v6.11h-1zM424.86,575.5h1v6.11h-1zM424.86,569.39h1v6.11h-1zM435.83,575.5h1v6.11h-1zM440.82,563.28h1v6.11h-1z" fill="#676767" fill-opacity="0.1"/>
<path d="M274.18,563.28h1v6.11h-1zM274.18,557.18h1v6.11h-1zM275.18,575.5h1v6.11h-1zM275.18,569.39h1v6.11h-1zM275.18,563.28h1v6.11h-1zM275.18,557.18h1v6.11h-1zM296.13,557.18h1v6.11h-1zM308.11,514.45h1v6.11h-1zM322.08,514.45h1v6.11h-1zM336.05,508.34h1v6.11h-1zM351.02,532.76h1v6.11h-1zM359,538.87h1v6.11h-1zM370.97,551.08h1v6.11h-1zM384.94,563.28h1v6.11h-1zM394.92,563.28h1v6.11h-1zM410.89,557.18h1v6.11h-1zM426.85,575.5h1v6.11h-1z" fill="#676767" fill-opacity="0.2"/>
<path d="M273.18,569.39h1v6.11h-1zM280.17,569.39h1v6.11h-1zM281.17,575.5h1v6.11h-1zM281.17,569.39h1v6.11h-1zM288.15,563.28h1v6.11h-1zM289.15,563.28h1v6.11h-1zM301.12,551.08h1v6.11h-1zM305.11,551.08h1v6.11h-1zM305.11,544.97h1v6.11h-1zM317.09,502.24h1v6.11h-1zM321.08,502.24h1v6.11h-1zM329.06,520.55h1v6.11h-1zM329.06,514.45h1v6.11h-1zM333.05,514.45h1v6.11h-1zM345.03,526.65h1v6.11h-1zM346.03,532.76h1v6.11h-1zM349.02,526.65h1v6.11h-1zM349.02,520.55h1v6.11h-1zM349.02,514.45h1v6.11h-1zM352.01,532.76h1v6.11h-1zM370.97,557.18h1v6.11h-1zM373.97,551.08h1v6.11h-1zM376.96,563.28h1v6.11h-1zM389.93,569.39h1v6.11h-1zM397.91,563.28h1v6.11h-1zM409.89,563.28h1v6.11h-1zM411.88,563.28h1v6.11h-1zM417.87,575.5h1v6.11h-1zM425.85,575.5h1v6.11h-1zM425.85,569.39h1v6.11h-1zM427.85,575.5h1v6.11h-1zM428.85,575.5h1v6.11h-1zM437.83,575.5h1v6.11h-1zM441.82,569.39h1v6.11h-1zM441.82,563.28h1v6.11h-1zM445.81,575.5h1v6.11h-1zM447.81,575.5h1v6.11h-1zM447.81,569.39h1v6.11h-1zM449.8,575.5h1v6.11h-1z" fill="#676767" fill-opacity="0.3"/>
<path d="M266.2,551.08h1v6.11h-1zM268.19,563.28h1v6.11h-1zM270.19,575.5h1v6.11h-1zM271.19,569.39h1v6.11h-1zM292.14,563.28h1v6.11h-1zM292.14,557.18h1v6.11h-1zM294.14,551.08h1v6.11h-1zM295.14,551.08h1v6.11h-1zM312.1,502.24h1v6.11h-1zM312.1,496.13h1v6.11h-1zM312.1,490.02h1v6.11h-1zM312.1,483.92h1v6.11h-1zM313.1,496.13h1v6.11h-1zM313.1,490.02h1v6.11h-1zM314.09,496.13h1v6.11h-1zM314.09,490.02h1v6.11h-1zM315.09,502.24h1v6.11h-1zM315.09,496.13h1v6.11h-1zM316.09,502.24h1v6.11h-1zM316.09,496.13h1v6.11h-1zM316.09,490.02h1v6.11h-1zM318.09,483.92h1v6.11h-1zM319.08,502.24h1v6.11h-1zM319.08,496.13h1v6.11h-1zM319.08,490.02h1v6.11h-1zM319.08,483.92h1v6.11h-1zM319.08,477.81h1v6.11h-1zM320.08,514.45h1v6.11h-1zM320.08,508.34h1v6.11h-1zM323.08,508.34h1v6.11h-1zM324.07,514.45h1v6.11h-1zM326.07,520.55h1v6.11h-1zM328.06,514.45h1v6.11h-1zM334.05,502.24h1v6.11h-1zM338.04,532.76h1v6.11h-1zM339.04,532.76h1v6.11h-1zM339.04,526.65h1v6.11h-1zM340.04,532.76h1v6.11h-1zM340.04,526.65h1v6.11h-1zM341.04,526.65h1v6.11h-1zM342.03,526.65h1v6.11h-1zM342.03,520.55h1v6.11h-1zM342.03,514.45h1v6.11h-1zM344.03,526.65h1v6.11h-1zM344.03,520.55h1v6.11h-1zM348.02,520.55h1v6.11h-1zM350.02,526.65h1v6.11h-1zM354.01,538.87h1v6.11h-1zM355.01,538.87h1v6.11h-1zM356,538.87h1v6.11h-1zM356,532.76h1v6.11h-1zM358,538.87h1v6.11h-1zM360,532.76h1v6.11h-1zM360.99,532.76h1v6.11h-1zM362.99,544.97h1v6.11h-1zM366.98,538.87h1v6.11h-1zM368.98,557.18h1v6.11h-1zM374.96,563.28h1v6.11h-1zM379.95,557.18h1v6.11h-1zM380.95,563.28h1v6.11h-1zM383.94,557.18h1v6.11h-1zM385.94,575.5h1v6.11h-1zM386.94,569.39h1v6.11h-1zM386.94,563.28h1v6.11h-1zM388.93,569.39h1v6.11h-1zM390.93,575.5h1v6.11h-1zM391.93,569.39h1v6.11h-1zM392.92,569.39h1v6.11h-1zM399.91,575.5h1v6.11h-1zM399.91,569.39h1v6.11h-1zM400.91,569.39h1v6.11h-1zM404.9,575.5h1v6.11h-1zM405.9,569.39h1v6.11h-1zM405.9,563.28h1v6.11h-1zM406.89,569.39h1v6.11h-1zM408.89,575.5h1v6.11h-1zM408.89,569.39h1v6.11h-1zM416.87,575.5h1v6.11h-1zM416.87,569.39h1v6.11h-1zM416.87,563.28h1v6.11h-1zM418.87,575.5h1v6.11h-1zM421.86,569.39h1v6.11h-1zM423.86,563.28h1v6.11h-1zM431.84,569.39h1v6.11h-1zM432.84,575.5h1v6.11h-1zM436.83,575.5h1v6.11h-1zM436.83,569.39h1v6.11h-1zM436.83,563.28h1v6.11h-1zM438.83,569.39h1v6.11h-1zM439.82,569.39h1v6.11h-1zM440.82,569.39h1v6.11h-1zM444.81,575.5h1v6.11h-1zM446.81,563.28h1v6.11h-1zM446.81,557.18h1v6.11h-1z" fill="#676767" fill-opacity="0.4"/>
<path d="M266.2,557.18h1v6.11h-1zM267.2,563.28h1v6.11h-1zM271.19,575.5h1v6.11h-1zM291.14,575.5h1v6.11h-1zM291.14,569.39h1v6.11h-1zM303.12,557.18h1v6.11h-1zM327.07,520.55h1v6.11h-1zM335.05,508.34h1v6.11h-1zM367.98,551.08h1v6.11h-1zM371.97,551.08h1v6.11h-1zM375.96,563.28h1v6.11h-1zM379.95,563.28h1v6.11h-1zM395.92,575.5h1v6.11h-1zM419.87,575.5h1v6.11h-1zM443.82,575.5h1v6.11h-1zM448.8,569.39h1v6.11h-1z" fill="#676767" fill-opacity="0.5"/>
<path d="M265.2,575.5h1v6.11h-1zM265.2,569.39h1v6.11h-1zM265.2,563.28h1v6.11h-1zM265.2,557.18h1v6.11h-1zM266.2,563.28h1v6.11h-1zM267.2,569.39h1v6.11h-1zM272.18,575.5h1v6.11h-1zM273.18,575.5h1v6.11h-1zM274.18,575.5h1v6.11h-1zM274.18,569.39h1v6.11h-1zM278.17,575.5h1v6.11h-1zM279.17,575.5h1v6.11h-1zM292.14,575.5h1v6.11h-1zM292.14,569.39h1v6.11h-1zM296.13,563.28h1v6.11h-1zM299.13,563.28h1v6.11h-1zM302.12,557.18h1v6.11h-1zM306.11,532.76h1v6.11h-1zM307.11,538.87h1v6.11h-1zM307.11,532.76h1v6.11h-1zM308.11,526.65h1v6.11h-1zM308.11,520.55h1v6.11h-1zM310.1,520.55h1v6.11h-1zM310.1,514.45h1v6.11h-1zM311.1,514.45h1v6.11h-1zM317.09,508.34h1v6.11h-1zM322.08,520.55h1v6.11h-1zM326.07,526.65h1v6.11h-1zM327.07,526.65h1v6.11h-1zM328.06,520.55h1v6.11h-1zM332.06,514.45h1v6.11h-1zM335.05,514.45h1v6.11h-1zM336.05,526.65h1v6.11h-1zM336.05,520.55h1v6.11h-1zM336.05,514.45h1v6.11h-1zM348.02,526.65h1v6.11h-1zM351.02,538.87h1v6.11h-1zM355.01,551.08h1v6.11h-1zM355.01,544.97h1v6.11h-1zM357,544.97h1v6.11h-1zM362.99,551.08h1v6.11h-1zM363.99,551.08h1v6.11h-1zM364.98,551.08h1v6.11h-1zM368.98,563.28h1v6.11h-1zM369.97,557.18h1v6.11h-1zM378.95,563.28h1v6.11h-1zM384.94,569.39h1v6.11h-1zM387.94,575.5h1v6.11h-1zM394.92,575.5h1v6.11h-1zM394.92,569.39h1v6.11h-1zM410.89,563.28h1v6.11h-1zM420.86,575.5h1v6.11h-1zM422.86,575.5h1v6.11h-1zM434.83,575.5h1v6.11h-1zM438.83,575.5h1v6.11h-1zM441.82,575.5h1v6.11h-1zM442.82,575.5h1v6.11h-1zM446.81,575.5h1v6.11h-1zM446.81,569.39h1v6.11h-1z" fill="#676767" fill-opacity="0.6"/>
<path d="M269.19,569.39h1v6.11h-1zM277.17,575.5h1v6.11h-1zM285.16,569.39h1v6.11h-1zM297.13,569.39h1v6.11h-1zM301.12,563.28h1v6.11h-1zM301.12,557.18h1v6.11h-1zM304.12,551.08h1v6.11h-1zM313.1,502.24h1v6.11h-1zM315.09,508.34h1v6.11h-1zM318.09,502.24h1v6.11h-1zM318.09,496.13h1v6.11h-1zM318.09,490.02h1v6.11h-1zM321.08,514.45h1v6.11h-1zM321.08,508.34h1v6.11h-1zM325.07,526.65h1v6.11h-1zM333.05,520.55h1v6.11h-1zM334.05,508.34h1v6.11h-1zM338.04,538.87h1v6.11h-1zM341.04,532.76h1v6.11h-1zM350.02,532.76h1v6.11h-1zM361.99,544.97h1v6.11h-1zM365.98,544.97h1v6.11h-1zM366.98,544.97h1v6.11h-1zM373.97,557.18h1v6.11h-1zM381.95,569.39h1v6.11h-1zM389.93,575.5h1v6.11h-1zM391.93,575.5h1v6.11h-1zM393.92,575.5h1v6.11h-1zM400.91,575.5h1v6.11h-1zM402.9,575.5h1v6.11h-1zM409.89,569.39h1v6.11h-1zM413.88,557.18h1v6.11h-1zM415.88,569.39h1v6.11h-1zM421.86,575.5h1v6.11h-1zM423.86,569.39h1v6.11h-1zM430.84,575.5h1v6.11h-1zM431.84,575.5h1v6.11h-1z" fill="#676767" fill-opacity="0.7"/>
<path d="M282.16,569.39h1v6.11h-1zM283.16,569.39h1v6.11h-1zM300.12,557.18h1v6.11h-1zM300.12,551.08h1v6.11h-1zM304.12,563.28h1v6.11h-1zM304.12,557.18h1v6.11h-1zM314.09,508.34h1v6.11h-1zM314.09,502.24h1v6.11h-1zM316.09,508.34h1v6.11h-1zM320.08,520.55h1v6.11h-1zM330.06,514.45h1v6.11h-1zM383.94,563.28h1v6.11h-1zM392.92,575.5h1v6.11h-1zM396.92,575.5h1v6.11h-1zM406.89,575.5h1v6.11h-1zM414.88,569.39h1v6.11h-1zM414.88,563.28h1v6.11h-1zM423.86,575.5h1v6.11h-1zM439.82,575.5h1v6.11h-1zM440.82,575.5h1v6.11h-1z" fill="#676767" fill-opacity="0.8"/>
<path d="M286.15,569.39h1v6.11h-1zM294.14,557.18h1v6.11h-1zM298.13,563.28h1v6.11h-1zM302.12,563.28h1v6.11h-1zM303.12,563.28h1v6.11h-1zM306.11,538.87h1v6.11h-1zM319.08,520.55h1v6.11h-1zM319.08,514.45h1v6.11h-1zM319.08,508.34h1v6.11h-1zM323.08,514.45h1v6.11h-1zM324.07,520.55h1v6.11h-1zM331.06,514.45h1v6.11h-1zM332.06,520.55h1v6.11h-1zM339.04,538.87h1v6.11h-1zM347.02,526.65h1v6.11h-1zM367.98,557.18h1v6.11h-1zM371.97,557.18h1v6.11h-1zM382.95,569.39h1v6.11h-1zM386.94,575.5h1v6.11h-1zM415.88,575.5h1v6.11h-1z" fill="#676767" fill-opacity="0.9"/>
<path d="M266.2,575.5h1v6.11h-1zM266.2,569.39h1v6.11h-1zM267.2,575.5h1v6.11h-1zM268.19,575.5h1v6.11h-1zM268.19,569.39h1v6.11h-1zM269.19,575.5h1v6.11h-1zM280.17,575.5h1v6.11h-1zM282.16,575.5h1v6.11h-1zM283.16,575.5h1v6.11h-1zM284.16,575.5h1v6.11h-1zM284.16,569.39h1v6.11h-1zM285.16,575.5h1v6.11h-1zM286.15,575.5h1v6.11h-1zM287.15,575.5h1v6.11h-1zM287.15,569.39h1v6.11h-1zM288.15,575.5h1v6.11h-1zM288.15,569.39h1v6.11h-1zM289.15,575.5h1v6.11h-1zM289.15,569.39h1v6.11h-1zM293.14,575.5h1v6.11h-1zM293.14,569.39h1v6.11h-1zM293.14,563.28h1v6.11h-1zM294.14,575.5h1v6.11h-1zM294.14,569.39h1v6.11h-1zM294.14,563.28h1v6.11h-1zM295.14,575.5h1v6.11h-1zM295.14,569.39h1v6.11h-1zM295.14,563.28h1v6.11h-1zM295.14,557.18h1v6.11h-1zM296.13,575.5h1v6.11h-1zM296.13,569.39h1v6.11h-1zM297.13,575.5h1v6.11h-1zM298.13,575.5h1v6.11h-1zM298.13,569.39h1v6.11h-1zM299.13,575.5h1v6.11h-1zM299.13,569.39h1v6.11h-1zM300.12,575.5h1v6.11h-1zM300.12,569.39h1v6.11h-1zM300.12,563.28h1v6.11h-1zM301.12,575.5h1v6.11h-1zM301.12,569.39h1v6.11h-1zM302.12,575.5h1v6.11h-1zM302.12,569.39h1v6.11h-1zM303.12,575.5h1v6.11h-1zM303.12,569.39h1v6.11h-1zM304.12,575.5h1v6.11h-1zM304.12,569.39h1v6.11h-1zM305.11,575.5h1v6.11h-1zM305.11,569.39h1v6.11h-1zM305.11,563.28h1v6.11h-1zM305.11,557.18h1v6.11h-1zM306.11,575.5h1v6.11h-1zM306.11,569.39h1v6.11h-1zM306.11,563.28h1v6.11h-1zM306.11,557.18h1v6.11h-1zM306.11,551.08h1v6.11h-1zM306.11,544.97h1v6.11h-1zM307.11,575.5h1v6.11h-1zM307.11,569.39h1v6.11h-1zM307.11,563.28h1v6.11h-1zM307.11,557.18h1v6.11h-1zM307.11,551.08h1v6.11h-1zM307.11,544.97h1v6.11h-1zM308.11,575.5h1v6.11h-1zM308.11,569.39h1v6.11h-1zM308.11,563.28h1v6.11h-1zM308.11,557.18h1v6.11h-1zM308.11,551.08h1v6.11h-1zM308.11,544.97h1v6.11h-1zM308.11,538.87h1v6.11h-1zM308.11,532.76h1v6.11h-1zM309.11,575.5h1v6.11h-1zM309.11,569.39h1v6.11h-1zM309.11,563.28h1v6.11h-1zM309.11,557.18h1v6.11h-1zM309.11,551.08h1v6.11h-1zM309.11,544.97h1v6.11h-1zM309.11,538.87h1v6.11h-1zM309.11,532.76h1v6.11h-1zM310.1,575.5h1v6.11h-1zM310.1,569.39h1v6.11h-1zM310.1,563.28h1v6.11h-1zM310.1,557.18h1v6.11h-1zM310.1,551.08h1v6.11h-1zM310.1,544.97h1v6.11h-1zM310.1,538.87h1v6.11h-1zM310.1,532.76h1v6.11h-1zM310.1,526.65h1v6.11h-1zM311.1,575.5h1v6.11h-1zM311.1,569.39h1v6.11h-1zM311.1,563.28h1v6.11h-1zM311.1,557.18h1v6.11h-1zM311.1,551.08h1v6.11h-1zM311.1,544.97h1v6.11h-1zM311.1,538.87h1v6.11h-1zM311.1,532.76h1v6.11h-1zM311.1,526.65h1v6.11h-1zM311.1,520.55h1v6.11h-1zM312.1,575.5h1v6.11h-1zM312.1,569.39h1v6.11h-1zM312.1,563.28h1v6.11h-1zM312.1,557.18h1v6.11h-1zM312.1,551.08h1v6.11h-1zM312.1,544.97h1v6.11h-1zM312.1,538.87h1v6.11h-1zM312.1,532.76h1v6.11h-1zM312.1,526.65h1v6.11h-1zM312.1,520.55h1v6.11h-1zM312.1,514.45h1v6.11h-1zM312.1,508.34h1v6.11h-1zM313.1,575.5h1v6.11h-1zM313.1,569.39h1v6.11h-1zM313.1,563.28h1v6.11h-1zM313.1,557.18h1v6.11h-1zM313.1,551.08h1v6.11h-1zM313.1,544.97h1v6.11h-1zM313.1,538.87h1v6.11h-1zM313.1,532.76h1v6.11h-1zM313.1,526.65h1v6.11h-1zM313.1,520.55h1v6.11h-1zM313.1,514.45h1v6.11h-1zM313.1,508.34h1v6.11h-1zM314.09,575.5h1v6.11h-1zM314.09,569.39h1v6.11h-1zM314.09,563.28h1v6.11h-1zM314.09,557.18h1v6.11h-1zM314.09,551.08h1v6.11h-1zM314.09,544.97h1v6.11h-1zM314.09,538.87h1v6.11h-1zM314.09,532.76h1v6.11h-1zM314.09,526.65h1v6.11h-1zM314.09,520.55h1v6.11h-1zM314.09,514.45h1v6.11h-1zM315.09,575.5h1v6.11h-1zM315.09,569.39h1v6.11h-1zM315.09,563.28h1v6.11h-1zM315.09,557.18h1v6.11h-1zM315.09,551.08h1v6.11h-1zM315.09,544.97h1v6.11h-1zM315.09,538.87h1v6.11h-1zM315.09,532.76h1v6.11h-1zM315.09,526.65h1v6.11h-1zM315.09,520.55h1v6.11h-1zM315.09,514.45h1v6.11h-1zM316.09,575.5h1v6.11h-1zM316.09,569.39h1v6.11h-1zM316.09,563.28h1v6.11h-1zM316.09,557.18h1v6.11h-1zM316.09,551.08h1v6.11h-1zM316.09,544.97h1v6.11h-1zM316.09,538.87h1v6.11h-1zM316.09,532.76h1v6.11h-1zM316.09,526.65h1v6.11h-1zM316.09,520.55h1v6.11h-1zM316.09,514.45h1v6.11h-1zM317.09,575.5h1v6.11h-1zM317.09,569.39h1v6.11h-1zM317.09,563.28h1v6.11h-1zM317.09,557.18h1v6.11h-1zM317.09,551.08h1v6.11h-1zM317.09,544.97h1v6.11h-1zM317.09,538.87h1v6.11h-1zM317.09,532.76h1v6.11h-1zM317.09,526.65h1v6.11h-1zM317.09,520.55h1v6.11h-1zM317.09,514.45h1v6.11h-1zM318.09,575.5h1v6.11h-1zM318.09,569.39h1v6.11h-1zM318.09,563.28h1v6.11h-1zM318.09,557.18h1v6.11h-1zM318.09,551.08h1v6.11h-1zM318.09,544.97h1v6.11h-1zM318.09,538.87h1v6.11h-1zM318.09,532.76h1v6.11h-1zM318.09,526.65h1v6.11h-1zM318.09,520.55h1v6.11h-1zM318.09,514.45h1v6.11h-1zM318.09,508.34h1v6.11h-1zM319.08,575.5h1v6.11h-1zM319.08,569.39h1v6.11h-1zM319.08,563.28h1v6.11h-1zM319.08,557.18h1v6.11h-1zM319.08,551.08h1v6.11h-1zM319.08,544.97h1v6.11h-1zM319.08,538.87h1v6.11h-1zM319.08,532.76h1v6.11h-1zM319.08,526.65h1v6.11h-1zM320.08,575.5h1v6.11h-1zM320.08,569.39h1v6.11h-1zM320.08,563.28h1v6.11h-1zM320.08,557.18h1v6.11h-1zM320.08,551.08h1v6.11h-1zM320.08,544.97h1v6.11h-1zM320.08,538.87h1v6.11h-1zM320.08,532.76h1v6.11h-1zM320.08,526.65h1v6.11h-1zM321.08,575.5h1v6.11h-1zM321.08,569.39h1v6.11h-1zM321.08,563.28h1v6.11h-1zM321.08,557.18h1v6.11h-1zM321.08,551.08h1v6.11h-1zM321.08,544.97h1v6.11h-1zM321.08,538.87h1v6.11h-1zM321.08,532.76h1v6.11h-1zM321.08,526.65h1v6.11h-1zM321.08,520.55h1v6.11h-1zM322.08,575.5h1v6.11h-1zM322.08,569.39h1v6.11h-1zM322.08,563.28h1v6.11h-1zM322.08,557.18h1v6.11h-1zM322.08,551.08h1v6.11h-1zM322.08,544.97h1v6.11h-1zM322.08,538.87h1v6.11h-1zM322.08,532.76h1v6.11h-1zM322.08,526.65h1v6.11h-1zM323.08,575.5h1v6.11h-1zM323.08,569.39h1v6.11h-1zM323.08,563.28h1v6.11h-1zM323.08,557.18h1v6.11h-1zM323.08,551.08h1v6.11h-1zM323.08,544.97h1v6.11h-1zM323.08,538.87h1v6.11h-1zM323.08,532.76h1v6.11h-1zM323.08,526.65h1v6.11h-1zM323.08,520.55h1v6.11h-1zM324.07,575.5h1v6.11h-1zM324.07,569.39h1v6.11h-1zM324.07,563.28h1v6.11h-1zM324.07,557.18h1v6.11h-1zM324.07,551.08h1v6.11h-1zM324.07,544.97h1v6.11h-1zM324.07,538.87h1v6.11h-1zM324.07,532.76h1v6.11h-1zM324.07,526.65h1v6.11h-1zM325.07,575.5h1v6.11h-1zM325.07,569.39h1v6.11h-1zM325.07,563.28h1v6.11h-1zM325.07,557.18h1v6.11h-1zM325.07,551.08h1v6.11h-1zM325.07,544.97h1v6.11h-1zM325.07,538.87h1v6.11h-1zM325.07,532.76h1v6.11h-1zM326.07,575.5h1v6.11h-1zM326.07,569.39h1v6.11h-1zM326.07,563.28h1v6.11h-1zM326.07,557.18h1v6.11h-1zM326.07,551.08h1v6.11h-1zM326.07,544.97h1v6.11h-1zM326.07,538.87h1v6.11h-1zM326.07,532.76h1v6.11h-1zM327.07,575.5h1v6.11h-1zM327.07,569.39h1v6.11h-1zM327.07,563.28h1v6.11h-1zM327.07,557.18h1v6.11h-1zM327.07,551.08h1v6.11h-1zM327.07,544.97h1v6.11h-1zM327.07,538.87h1v6.11h-1zM327.07,532.76h1v6.11h-1zM328.06,575.5h1v6.11h-1zM328.06,569.39h1v6.11h-1zM328.06,563.28h1v6.11h-1zM328.06,557.18h1v6.11h-1zM328.06,551.08h1v6.11h-1zM328.06,544.97h1v6.11h-1zM328.06,538.87h1v6.11h-1zM328.06,532.76h1v6.11h-1zM328.06,526.65h1v6.11h-1zM329.06,575.5h1v6.11h-1zM329.06,569.39h1v6.11h-1zM329.06,563.28h1v6.11h-1zM329.06,557.18h1v6.11h-1zM329.06,551.08h1v6.11h-1zM329.06,544.97h1v6.11h-1zM329.06,538.87h1v6.11h-1zM329.06,532.76h1v6.11h-1zM329.06,526.65h1v6.11h-1zM330.06,575.5h1v6.11h-1zM330.06,569.39h1v6.11h-1zM330.06,563.28h1v6.11h-1zM330.06,557.18h1v6.11h-1zM330.06,551.08h1v6.11h-1zM330.06,544.97h1v6.11h-1zM330.06,538.87h1v6.11h-1zM330.06,532.76h1v6.11h-1zM330.06,526.65h1v6.11h-1zM330.06,520.55h1v6.11h-1zM331.06,575.5h1v6.11h-1zM331.06,569.39h1v6.11h-1zM331.06,563.28h1v6.11h-1zM331.06,557.18h1v6.11h-1zM331.06,551.08h1v6.11h-1zM331.06,544.97h1v6.11h-1zM331.06,538.87h1v6.11h-1zM331.06,532.76h1v6.11h-1zM331.06,526.65h1v6.11h-1zM331.06,520.55h1v6.11h-1zM332.06,575.5h1v6.11h-1zM332.06,569.39h1v6.11h-1zM332.06,563.28h1v6.11h-1zM332.06,557.18h1v6.11h-1zM332.06,551.08h1v6.11h-1zM332.06,544.97h1v6.11h-1zM332.06,538.87h1v6.11h-1zM332.06,532.76h1v6.11h-1zM332.06,526.65h1v6.11h-1zM333.05,575.5h1v6.11h-1zM333.05,569.39h1v6.11h-1zM333.05,563.28h1v6.11h-1zM333.05,557.18h1v6.11h-1zM333.05,551.08h1v6.11h-1zM333.05,544.97h1v6.11h-1zM333.05,538.87h1v6.11h-1zM333.05,532.76h1v6.11h-1zM333.05,526.65h1v6.11h-1zM334.05,575.5h1v6.11h-1zM334.05,569.39h1v6.11h-1zM334.05,563.28h1v6.11h-1zM334.05,557.18h1v6.11h-1zM334.05,551.08h1v6.11h-1zM334.05,544.97h1v6.11h-1zM334.05,538.87h1v6.11h-1zM334.05,532.76h1v6.11h-1zM334.05,526.65h1v6.11h-1zM334.05,520.55h1v6.11h-1zM334.05,514.45h1v6.11h-1zM335.05,575.5h1v6.11h-1zM335.05,569.39h1v6.11h-1zM335.05,563.28h1v6.11h-1zM335.05,557.18h1v6.11h-1zM335.05,551.08h1v6.11h-1zM335.05,544.97h1v6.11h-1zM335.05,538.87h1v6.11h-1zM335.05,532.76h1v6.11h-1zM335.05,526.65h1v6.11h-1zM335.05,520.55h1v6.11h-1zM336.05,575.5h1v6.11h-1zM336.05,569.39h1v6.11h-1zM336.05,563.28h1v6.11h-1zM336.05,557.18h1v6.11h-1zM336.05,551.08h1v6.11h-1zM336.05,544.97h1v6.11h-1zM336.05,538.87h1v6.11h-1zM336.05,532.76h1v6.11h-1zM337.05,575.5h1v6.11h-1zM337.05,569.39h1v6.11h-1zM337.05,563.28h1v6.11h-1zM337.05,557.18h1v6.11h-1zM337.05,551.08h1v6.11h-1zM337.05,544.97h1v6.11h-1zM337.05,538.87h1v6.11h-1zM337.05,532.76h1v6.11h-1zM338.04,575.5h1v6.11h-1zM338.04,569.39h1v6.11h-1zM338.04,563.28h1v6.11h-1zM338.04,557.18h1v6.11h-1zM338.04,551.08h1v6.11h-1zM338.04,544.97h1v6.11h-1zM339.04,575.5h1v6.11h-1zM339.04,569.39h1v6.11h-1zM339.04,563.28h1v6.11h-1zM339.04,557.18h1v6.11h-1zM339.04,551.08h1v6.11h-1zM339.04,544.97h1v6.11h-1zM340.04,575.5h1v6.11h-1zM340.04,569.39h1v6.11h-1zM340.04,563.28h1v6.11h-1zM340.04,557.18h1v6.11h-1zM340.04,551.08h1v6.11h-1zM340.04,544.97h1v6.11h-1zM340.04,538.87h1v6.11h-1zM341.04,575.5h1v6.11h-1zM341.04,569.39h1v6.11h-1zM341.04,563.28h1v6.11h-1zM341.04,557.18h1v6.11h-1zM341.04,551.08h1v6.11h-1zM341.04,544.97h1v6.11h-1zM341.04,538.87h1v6.11h-1zM342.03,575.5h1v6.11h-1zM342.03,569.39h1v6.11h-1zM342.03,563.28h1v6.11h-1zM342.03,557.18h1v6.11h-1zM342.03,551.08h1v6.11h-1zM342.03,544.97h1v6.11h-1zM342.03,538.87h1v6.11h-1zM342.03,532.76h1v6.11h-1zM343.03,575.5h1v6.11h-1zM343.03,569.39h1v6.11h-1zM343.03,563.28h1v6.11h-1zM343.03,557.18h1v6.11h-1zM343.03,551.08h1v6.11h-1zM343.03,544.97h1v6.11h-1zM343.03,538.87h1v6.11h-1zM343.03,532.76h1v6.11h-1zM344.03,575.5h1v6.11h-1zM344.03,569.39h1v6.11h-1zM344.03,563.28h1v6.11h-1zM344.03,557.18h1v6.11h-1zM344.03,551.08h1v6.11h-1zM344.03,544.97h1v6.11h-1zM344.03,538.87h1v6.11h-1zM344.03,532.76h1v6.11h-1zM345.03,575.5h1v6.11h-1zM345.03,569.39h1v6.11h-1zM345.03,563.28h1v6.11h-1zM345.03,557.18h1v6.11h-1zM345.03,551.08h1v6.11h-1zM345.03,544.97h1v6.11h-1zM345.03,538.87h1v6.11h-1zM345.03,532.76h1v6.11h-1zM346.03,575.5h1v6.11h-1zM346.03,569.39h1v6.11h-1zM346.03,563.28h1v6.11h-1zM346.03,557.18h1v6.11h-1zM346.03,551.08h1v6.11h-1zM346.03,544.97h1v6.11h-1zM346.03,538.87h1v6.11h-1zM347.02,575.5h1v6.11h-1zM347.02,569.39h1v6.11h-1zM347.02,563.28h1v6.11h-1zM347.02,557.18h1v6.11h-1zM347.02,551.08h1v6.11h-1zM347.02,544.97h1v6.11h-1zM347.02,538.87h1v6.11h-1zM347.02,532.76h1v6.11h-1zM348.02,575.5h1v6.11h-1zM348.02,569.39h1v6.11h-1zM348.02,563.28h1v6.11h-1zM348.02,557.18h1v6.11h-1zM348.02,551.08h1v6.11h-1zM348.02,544.97h1v6.11h-1zM348.02,538.87h1v6.11h-1zM348.02,532.76h1v6.11h-1zM349.02,575.5h1v6.11h-1zM349.02,569.39h1v6.11h-1zM349.02,563.28h1v6.11h-1zM349.02,557.18h1v6.11h-1zM349.02,551.08h1v6.11h-1zM349.02,544.97h1v6.11h-1zM349.02,538.87h1v6.11h-1zM349.02,532.76h1v6.11h-1zM350.02,575.5h1v6.11h-1zM350.02,569.39h1v6.11h-1zM350.02,563.28h1v6.11h-1zM350.02,557.18h1v6.11h-1zM350.02,551.08h1v6.11h-1zM350.02,544.97h1v6.11h-1zM350.02,538.87h1v6.11h-1zM351.02,575.5h1v6.11h-1zM351.02,569.39h1v6.11h-1zM351.02,563.28h1v6.11h-1zM351.02,557.18h1v6.11h-1zM351.02,551.08h1v6.11h-1zM351.02,544.97h1v6.11h-1zM352.01,575.5h1v6.11h-1zM352.01,569.39h1v6.11h-1zM352.01,563.28h1v6.11h-1zM352.01,557.18h1v6.11h-1zM352.01,551.08h1v6.11h-1zM352.01,544.97h1v6.11h-1zM352.01,538.87h1v6.11h-1zM353.01,575.5h1v6.11h-1zM353.01,569.39h1v6.11h-1zM353.01,563.28h1v6.11h-1zM353.01,557.18h1v6.11h-1zM353.01,551.08h1v6.11h-1zM353.01,544.97h1v6.11h-1zM353.01,538.87h1v6.11h-1zM353.01,532.76h1v6.11h-1zM354.01,575.5h1v6.11h-1zM354.01,569.39h1v6.11h-1zM354.01,563.28h1v6.11h-1zM354.01,557.18h1v6.11h-1zM354.01,551.08h1v6.11h-1zM354.01,544.97h1v6.11h-1zM355.01,575.5h1v6.11h-1zM355.01,569.39h1v6.11h-1zM355.01,563.28h1v6.11h-1zM355.01,557.18h1v6.11h-1zM356,575.5h1v6.11h-1zM356,569.39h1v6.11h-1zM356,563.28h1v6.11h-1zM356,557.18h1v6.11h-1zM356,551.08h1v6.11h-1zM356,544.97h1v6.11h-1zM357,575.5h1v6.11h-1zM357,569.39h1v6.11h-1zM357,563.28h1v6.11h-1zM357,557.18h1v6.11h-1zM357,551.08h1v6.11h-1zM358,575.5h1v6.11h-1zM358,569.39h1v6.11h-1zM358,563.28h1v6.11h-1zM358,557.18h1v6.11h-1zM358,551.08h1v6.11h-1zM358,544.97h1v6.11h-1zM359,575.5h1v6.11h-1zM359,569.39h1v6.11h-1zM359,563.28h1v6.11h-1zM359,557.18h1v6.11h-1zM359,551.08h1v6.11h-1zM359,544.97h1v6.11h-1zM360,575.5h1v6.11h-1zM360,569.39h1v6.11h-1zM360,563.28h1v6.11h-1zM360,557.18h1v6.11h-1zM360,551.08h1v6.11h-1zM360,544.97h1v6.11h-1zM360,538.87h1v6.11h-1zM360.99,575.5h1v6.11h-1zM360.99,569.39h1v6.11h-1zM360.99,563.28h1v6.11h-1zM360.99,557.18h1v6.11h-1zM360.99,551.08h1v6.11h-1zM360.99,544.97h1v6.11h-1zM360.99,538.87h1v6.11h-1zM361.99,575.5h1v6.11h-1zM361.99,569.39h1v6.11h-1zM361.99,563.28h1v6.11h-1zM361.99,557.18h1v6.11h-1zM361.99,551.08h1v6.11h-1zM362.99,575.5h1v6.11h-1zM362.99,569.39h1v6.11h-1zM362.99,563.28h1v6.11h-1zM362.99,557.18h1v6.11h-1zM363.99,575.5h1v6.11h-1zM363.99,569.39h1v6.11h-1zM363.99,563.28h1v6.11h-1zM363.99,557.18h1v6.11h-1zM364.98,575.5h1v6.11h-1zM364.98,569.39h1v6.11h-1zM364.98,563.28h1v6.11h-1zM364.98,557.18h1v6.11h-1zM365.98,575.5h1v6.11h-1zM365.98,569.39h1v6.11h-1zM365.98,563.28h1v6.11h-1zM365.98,557.18h1v6.11h-1zM365.98,551.08h1v6.11h-1zM366.98,575.5h1v6.11h-1zM366.98,569.39h1v6.11h-1zM366.98,563.28h1v6.11h-1zM366.98,557.18h1v6.11h-1zM366.98,551.08h1v6.11h-1zM367.98,575.5h1v6.11h-1zM367.98,569.39h1v6.11h-1zM367.98,563.28h1v6.11h-1zM368.98,575.5h1v6.11h-1zM368.98,569.39h1v6.11h-1zM369.97,575.5h1v6.11h-1zM369.97,569.39h1v6.11h-1zM369.97,563.28h1v6.11h-1zM370.97,575.5h1v6.11h-1zM370.97,569.39h1v6.11h-1zM370.97,563.28h1v6.11h-1zM371.97,575.5h1v6.11h-1zM371.97,569.39h1v6.11h-1zM371.97,563.28h1v6.11h-1zM372.97,575.5h1v6.11h-1zM372.97,569.39h1v6.11h-1zM372.97,563.28h1v6.11h-1zM373.97,575.5h1v6.11h-1zM373.97,569.39h1v6.11h-1zM373.97,563.28h1v6.11h-1zM374.96,575.5h1v6.11h-1zM374.96,569.39h1v6.11h-1zM375.96,575.5h1v6.11h-1zM375.96,569.39h1v6.11h-1zM376.96,575.5h1v6.11h-1zM376.96,569.39h1v6.11h-1zM377.96,575.5h1v6.11h-1zM377.96,569.39h1v6.11h-1zM377.96,563.28h1v6.11h-1zM378.95,575.5h1v6.11h-1zM378.95,569.39h1v6.11h-1zM379.95,575.5h1v6.11h-1zM379.95,569.39h1v6.11h-1zM380.95,575.5h1v6.11h-1zM380.95,569.39h1v6.11h-1zM381.95,575.5h1v6.11h-1zM382.95,575.5h1v6.11h-1zM383.94,575.5h1v6.11h-1zM383.94,569.39h1v6.11h-1zM384.94,575.5h1v6.11h-1zM388.93,575.5h1v6.11h-1zM397.91,575.5h1v6.11h-1zM397.91,569.39h1v6.11h-1zM405.9,575.5h1v6.11h-1zM409.89,575.5h1v6.11h-1zM410.89,575.5h1v6.11h-1zM410.89,569.39h1v6.11h-1zM411.88,575.5h1v6.11h-1zM411.88,569.39h1v6.11h-1zM412.88,575.5h1v6.11h-1zM412.88,569.39h1v6.11h-1zM412.88,563.28h1v6.11h-1zM413.88,575.5h1v6.11h-1zM413.88,569.39h1v6.11h-1zM413.88,563.28h1v6.11h-1zM414.88,575.5h1v6.11h-1zM429.85,575.5h1v6.11h-1zM448.8,575.5h1v6.11h-1z" fill="#676767" fill-opacity="1"/>
<line x1="306.4" y1="459.5" x2="306.4" y2="581.6" stroke="#555" stroke-width="0.8"/>
<line x1="319.5" y1="459.5" x2="319.5" y2="581.6" stroke="#222" stroke-width="1.1"/>
<line x1="354.4" y1="459.5" x2="354.4" y2="581.6" stroke="#333" stroke-width="0.9"/>
<line x1="367.5" y1="459.5" x2="367.5" y2="581.6" stroke="#999" stroke-width="0.9"/>
<line x1="263.2" y1="459.5" x2="450.8" y2="459.5" stroke="#3a3a3a" stroke-width="1.3"/>
<line x1="450.8" y1="459.5" x2="450.8" y2="581.6" stroke="#aaaaaa" stroke-width="1"/>
<line x1="265.2" y1="459.5" x2="265.2" y2="582.1" stroke="#9a9a9a" stroke-width="1.4"/>
<rect x="450.15" y="520.6" width="1.3" height="61" fill="#555"/>
<line x1="264.7" y1="581.6" x2="451.3" y2="581.6" stroke="#2a2a2a" stroke-width="1.5"/>
<line x1="262.4" y1="581.6" x2="264.6" y2="581.6" stroke="#333" stroke-width="1"/>
<line x1="263.2" y1="575.5" x2="264.6" y2="575.5" stroke="#333" stroke-width="1"/>
<line x1="263.2" y1="569.39" x2="264.6" y2="569.39" stroke="#333" stroke-width="1"/>
<line x1="263.2" y1="563.28" x2="264.6" y2="563.28" stroke="#333" stroke-width="1"/>
<line x1="263.2" y1="557.18" x2="264.6" y2="557.18" stroke="#333" stroke-width="1"/>
<line x1="262.4" y1="551.08" x2="264.6" y2="551.08" stroke="#333" stroke-width="1"/>
<line x1="263.2" y1="544.97" x2="264.6" y2="544.97" stroke="#333" stroke-width="1"/>
<line x1="263.2" y1="538.87" x2="264.6" y2="538.87" stroke="#333" stroke-width="1"/>
<line x1="263.2" y1="532.76" x2="264.6" y2="532.76" stroke="#333" stroke-width="1"/>
<line x1="263.2" y1="526.65" x2="264.6" y2="526.65" stroke="#333" stroke-width="1"/>
<line x1="262.4" y1="520.55" x2="264.6" y2="520.55" stroke="#333" stroke-width="1"/>
<line x1="263.2" y1="514.45" x2="264.6" y2="514.45" stroke="#333" stroke-width="1"/>
<line x1="263.2" y1="508.34" x2="264.6" y2="508.34" stroke="#333" stroke-width="1"/>
<line x1="263.2" y1="502.24" x2="264.6" y2="502.24" stroke="#333" stroke-width="1"/>
<line x1="263.2" y1="496.13" x2="264.6" y2="496.13" stroke="#333" stroke-width="1"/>
<line x1="262.4" y1="490.02" x2="264.6" y2="490.02" stroke="#333" stroke-width="1"/>
<line x1="263.2" y1="483.92" x2="264.6" y2="483.92" stroke="#333" stroke-width="1"/>
<line x1="263.2" y1="477.81" x2="264.6" y2="477.81" stroke="#333" stroke-width="1"/>
<line x1="263.2" y1="471.71" x2="264.6" y2="471.71" stroke="#333" stroke-width="1"/>
<line x1="263.2" y1="465.61" x2="264.6" y2="465.61" stroke="#333" stroke-width="1"/>
<line x1="262.4" y1="459.5" x2="264.6" y2="459.5" stroke="#333" stroke-width="1"/>
<line x1="265.2" y1="581.6" x2="265.2" y2="584.4" stroke="#444" stroke-width="0.9"/>
<line x1="271.24" y1="581.6" x2="271.24" y2="583.4" stroke="#444" stroke-width="0.9"/>
<line x1="277.28" y1="581.6" x2="277.28" y2="583.4" stroke="#444" stroke-width="0.9"/>
<line x1="283.32" y1="581.6" x2="283.32" y2="583.4" stroke="#444" stroke-width="0.9"/>
<line x1="289.37" y1="581.6" x2="289.37" y2="583.4" stroke="#444" stroke-width="0.9"/>
<line x1="295.41" y1="581.6" x2="295.41" y2="583.4" stroke="#444" stroke-width="0.9"/>
<line x1="301.45" y1="581.6" x2="301.45" y2="584.4" stroke="#444" stroke-width="0.9"/>
<line x1="307.49" y1="581.6" x2="307.49" y2="583.4" stroke="#444" stroke-width="0.9"/>
<line x1="313.53" y1="581.6" x2="313.53" y2="583.4" stroke="#444" stroke-width="0.9"/>
<line x1="319.57" y1="581.6" x2="319.57" y2="583.4" stroke="#444" stroke-width="0.9"/>
<line x1="325.62" y1="581.6" x2="325.62" y2="583.4" stroke="#444" stroke-width="0.9"/>
<line x1="331.66" y1="581.6" x2="331.66" y2="583.4" stroke="#444" stroke-width="0.9"/>
<line x1="337.7" y1="581.6" x2="337.7" y2="584.4" stroke="#444" stroke-width="0.9"/>
<line x1="343.74" y1="581.6" x2="343.74" y2="583.4" stroke="#444" stroke-width="0.9"/>
<line x1="349.78" y1="581.6" x2="349.78" y2="583.4" stroke="#444" stroke-width="0.9"/>
<line x1="355.82" y1="581.6" x2="355.82" y2="583.4" stroke="#444" stroke-width="0.9"/>
<line x1="361.87" y1="581.6" x2="361.87" y2="583.4" stroke="#444" stroke-width="0.9"/>
<line x1="367.91" y1="581.6" x2="367.91" y2="583.4" stroke="#444" stroke-width="0.9"/>
<line x1="373.95" y1="581.6" x2="373.95" y2="584.4" stroke="#444" stroke-width="0.9"/>
<line x1="379.99" y1="581.6" x2="379.99" y2="583.4" stroke="#444" stroke-width="0.9"/>
<line x1="386.03" y1="581.6" x2="386.03" y2="583.4" stroke="#444" stroke-width="0.9"/>
<line x1="392.07" y1="581.6" x2="392.07" y2="583.4" stroke="#444" stroke-width="0.9"/>
<line x1="398.12" y1="581.6" x2="398.12" y2="583.4" stroke="#444" stroke-width="0.9"/>
<line x1="404.16" y1="581.6" x2="404.16" y2="583.4" stroke="#444" stroke-width="0.9"/>
<line x1="410.2" y1="581.6" x2="410.2" y2="584.4" stroke="#444" stroke-width="0.9"/>
<line x1="416.24" y1="581.6" x2="416.24" y2="583.4" stroke="#444" stroke-width="0.9"/>
<line x1="422.28" y1="581.6" x2="422.28" y2="583.4" stroke="#444" stroke-width="0.9"/>
<line x1="428.33" y1="581.6" x2="428.33" y2="583.4" stroke="#444" stroke-width="0.9"/>
<line x1="434.37" y1="581.6" x2="434.37" y2="583.4" stroke="#444" stroke-width="0.9"/>
<line x1="440.41" y1="581.6" x2="440.41" y2="583.4" stroke="#444" stroke-width="0.9"/>
<line x1="446.45" y1="581.6" x2="446.45" y2="584.4" stroke="#444" stroke-width="0.9"/>
<text x="307" y="454.6" font-size="10.2" fill="#1a1a1a" textLength="14" lengthAdjust="spacingAndGlyphs" letter-spacing="0.11">G1</text>
<text x="334.8" y="454.6" font-size="10.2" fill="#1a1a1a" textLength="5.72" lengthAdjust="spacingAndGlyphs">S</text>
<text x="352.3" y="454.6" font-size="10.2" fill="#1a1a1a" textLength="14.86" lengthAdjust="spacingAndGlyphs" letter-spacing="0.35">G2</text>
<text x="404.6" y="454.1" font-size="12.2" fill="#1a1a1a" textLength="42.16" lengthAdjust="spacingAndGlyphs" letter-spacing="0.68">Exp#2</text>
<text x="325.2" y="473.9" font-size="10.2" fill="#1a1a1a" textLength="23.82" lengthAdjust="spacingAndGlyphs" letter-spacing="0.56">58%</text>
<line x1="335.7" y1="478.4" x2="335.7" y2="493.6" stroke="#1a1a1a" stroke-width="1.3"/>
<path d="M333.1,492.4 L338.3,492.4 L335.7,497.6 Z" fill="#1a1a1a"/>
<text transform="translate(259.1,466.8) rotate(-90)" x="-0" font-size="11" fill="#1a1a1a" textLength="13.83" lengthAdjust="spacingAndGlyphs">20</text>
<text transform="translate(256.2,538) rotate(-90)" x="-0" font-size="11.6" fill="#1a1a1a" textLength="39.73" lengthAdjust="spacingAndGlyphs">Events</text>
<text transform="translate(259.3,583.6) rotate(-90)" x="-0" font-size="11" fill="#1a1a1a" textLength="5.81" lengthAdjust="spacingAndGlyphs">0</text>
<text x="262.3" y="596.4" font-size="11" fill="#1a1a1a" textLength="6.91" lengthAdjust="spacingAndGlyphs">0</text>
<text x="312.7" y="600.9" font-size="12" fill="#1a1a1a" textLength="45.33" lengthAdjust="spacingAndGlyphs" letter-spacing="0.9">7-AAD</text>
<text x="438.5" y="596.5" font-size="11" fill="#1a1a1a" textLength="30.13" lengthAdjust="spacingAndGlyphs" letter-spacing="0.66">1000</text>
<path d="M25.3,775.5 L25.3,773.15 L25.8,773.15 L25.8,772.94 L26.3,772.94 L26.3,773.49 L26.8,773.49 L26.8,772.82 L27.3,772.82 L27.3,773.32 L27.8,773.32 L27.8,773.12 L28.3,773.12 L28.3,772.75 L28.8,772.75 L28.8,773.24 L29.3,773.24 L29.3,772.7 L29.8,772.7 L29.8,773.13 L30.3,773.13 L30.3,772.7 L30.8,772.7 L30.8,772.71 L31.3,772.71 L31.3,773.07 L31.8,773.07 L31.8,773.5 L32.3,773.5 L32.3,772.7 L32.8,772.7 L32.8,772.79 L33.3,772.79 L33.3,773.23 L33.8,773.23 L33.8,773.57 L34.3,773.57 L34.3,773.14 L34.8,773.14 L34.8,772.92 L35.3,772.92 L35.3,773.55 L35.8,773.55 L35.8,772.49 L36.3,772.49 L36.3,773.38 L36.8,773.38 L36.8,772.73 L37.3,772.73 L37.3,772.55 L37.8,772.55 L37.8,772.51 L38.3,772.51 L38.3,772.7 L38.8,772.7 L38.8,773.25 L39.3,773.25 L39.3,772.53 L39.8,772.53 L39.8,772.96 L40.3,772.96 L40.3,772.98 L40.8,772.98 L40.8,772.62 L41.3,772.62 L41.3,772.76 L41.8,772.76 L41.8,772.16 L42.3,772.16 L42.3,772.1 L42.8,772.1 L42.8,772.2 L43.3,772.2 L43.3,772.67 L43.8,772.67 L43.8,772.33 L44.3,772.33 L44.3,772.15 L44.8,772.15 L44.8,772.39 L45.3,772.39 L45.3,772.18 L45.8,772.18 L45.8,771.95 L46.3,771.95 L46.3,772.45 L46.8,772.45 L46.8,772.28 L47.3,772.28 L47.3,771.71 L47.8,771.71 L47.8,772.03 L48.3,772.03 L48.3,771.91 L48.8,771.91 L48.8,772.24 L49.3,772.24 L49.3,772.02 L49.8,772.02 L49.8,771.47 L50.3,771.47 L50.3,772.19 L50.8,772.19 L50.8,771.16 L51.3,771.16 L51.3,771.44 L51.8,771.44 L51.8,771.76 L52.3,771.76 L52.3,771.02 L52.8,771.02 L52.8,771.34 L53.3,771.34 L53.3,770.78 L53.8,770.78 L53.8,771.42 L54.3,771.42 L54.3,771.47 L54.8,771.47 L54.8,771.2 L55.3,771.2 L55.3,771.48 L55.8,771.48 L55.8,770.79 L56.3,770.79 L56.3,771.16 L56.8,771.16 L56.8,770.99 L57.3,770.99 L57.3,770.88 L57.8,770.88 L57.8,770.62 L58.3,770.62 L58.3,770.94 L58.8,770.94 L58.8,770.94 L59.3,770.94 L59.3,770.29 L59.8,770.29 L59.8,770.39 L60.3,770.39 L60.3,768.17 L60.8,768.17 L60.8,766.39 L61.3,766.39 L61.3,763.5 L61.8,763.5 L61.8,760.86 L62.3,760.86 L62.3,757.63 L62.8,757.63 L62.8,749.98 L63.3,749.98 L63.3,740.36 L63.8,740.36 L63.8,730.94 L64.3,730.94 L64.3,722.43 L64.8,722.43 L64.8,716.42 L65.3,716.42 L65.3,709.59 L65.8,709.59 L65.8,703.03 L66.3,703.03 L66.3,695.29 L66.8,695.29 L66.8,687.61 L67.3,687.61 L67.3,678.43 L67.8,678.43 L67.8,671.72 L68.3,671.72 L68.3,666.11 L68.8,666.11 L68.8,660.88 L69.3,660.88 L69.3,658.26 L69.8,658.26 L69.8,659.62 L70.3,659.62 L70.3,664.74 L70.8,664.74 L70.8,672.81 L71.3,672.81 L71.3,679.66 L71.8,679.66 L71.8,686.11 L72.3,686.11 L72.3,691.85 L72.8,691.85 L72.8,698.41 L73.3,698.41 L73.3,704.74 L73.8,704.74 L73.8,711.73 L74.3,711.73 L74.3,717.43 L74.8,717.43 L74.8,721.63 L75.3,721.63 L75.3,726.76 L75.8,726.76 L75.8,731 L76.3,731 L76.3,734.57 L76.8,734.57 L76.8,738.42 L77.3,738.42 L77.3,740.56 L77.8,740.56 L77.8,741.19 L78.3,741.19 L78.3,741.9 L78.8,741.9 L78.8,743.37 L79.3,743.37 L79.3,743.91 L79.8,743.91 L79.8,744.47 L80.3,744.47 L80.3,745.23 L80.8,745.23 L80.8,745.27 L81.3,745.27 L81.3,745.41 L81.8,745.41 L81.8,745.86 L82.3,745.86 L82.3,746.06 L82.8,746.06 L82.8,745.36 L83.3,745.36 L83.3,746.31 L83.8,746.31 L83.8,746.17 L84.3,746.17 L84.3,746.28 L84.8,746.28 L84.8,746.19 L85.3,746.19 L85.3,745.74 L85.8,745.74 L85.8,745.75 L86.3,745.75 L86.3,745.42 L86.8,745.42 L86.8,746.01 L87.3,746.01 L87.3,745.37 L87.8,745.37 L87.8,745.38 L88.3,745.38 L88.3,745.44 L88.8,745.44 L88.8,745.24 L89.3,745.24 L89.3,745.29 L89.8,745.29 L89.8,744.82 L90.3,744.82 L90.3,744.7 L90.8,744.7 L90.8,744.87 L91.3,744.87 L91.3,744.81 L91.8,744.81 L91.8,745.11 L92.3,745.11 L92.3,744.73 L92.8,744.73 L92.8,745.68 L93.3,745.68 L93.3,745.39 L93.8,745.39 L93.8,744.87 L94.3,744.87 L94.3,744.98 L94.8,744.98 L94.8,745.09 L95.3,745.09 L95.3,745.11 L95.8,745.11 L95.8,744.84 L96.3,744.84 L96.3,745.33 L96.8,745.33 L96.8,744.96 L97.3,744.96 L97.3,743.84 L97.8,743.84 L97.8,743.32 L98.3,743.32 L98.3,742.34 L98.8,742.34 L98.8,741.83 L99.3,741.83 L99.3,741.6 L99.8,741.6 L99.8,741.04 L100.3,741.04 L100.3,741.19 L100.8,741.19 L100.8,739.97 L101.3,739.97 L101.3,740.98 L101.8,740.98 L101.8,744.27 L102.3,744.27 L102.3,744.69 L102.8,744.69 L102.8,744.26 L103.3,744.26 L103.3,744.71 L103.8,744.71 L103.8,744.13 L104.3,744.13 L104.3,744.69 L104.8,744.69 L104.8,745.2 L105.3,745.2 L105.3,745.25 L105.8,745.25 L105.8,745.36 L106.3,745.36 L106.3,745.17 L106.8,745.17 L106.8,745.59 L107.3,745.59 L107.3,745.98 L107.8,745.98 L107.8,747.48 L108.3,747.48 L108.3,748.04 L108.8,748.04 L108.8,749.14 L109.3,749.14 L109.3,749.25 L109.8,749.25 L109.8,749.61 L110.3,749.61 L110.3,750.74 L110.8,750.74 L110.8,751.41 L111.3,751.41 L111.3,752.41 L111.8,752.41 L111.8,753.96 L112.3,753.96 L112.3,755.58 L112.8,755.58 L112.8,757.09 L113.3,757.09 L113.3,757.72 L113.8,757.72 L113.8,759 L114.3,759 L114.3,759.77 L114.8,759.77 L114.8,760.35 L115.3,760.35 L115.3,761.32 L115.8,761.32 L115.8,762.57 L116.3,762.57 L116.3,763.53 L116.8,763.53 L116.8,764.99 L117.3,764.99 L117.3,765.96 L117.8,765.96 L117.8,765.86 L118.3,765.86 L118.3,766.88 L118.8,766.88 L118.8,767.42 L119.3,767.42 L119.3,767.85 L119.8,767.85 L119.8,767.67 L120.3,767.67 L120.3,767.98 L120.8,767.98 L120.8,768.46 L121.3,768.46 L121.3,768.71 L121.8,768.71 L121.8,768.87 L122.3,768.87 L122.3,769.49 L122.8,769.49 L122.8,769.95 L123.3,769.95 L123.3,770.21 L123.8,770.21 L123.8,770.26 L124.3,770.26 L124.3,770.9 L124.8,770.9 L124.8,771.52 L125.3,771.52 L125.3,770.89 L125.8,770.89 L125.8,771.54 L126.3,771.54 L126.3,771.82 L126.8,771.82 L126.8,771.68 L127.3,771.68 L127.3,771.64 L127.8,771.64 L127.8,771.34 L128.3,771.34 L128.3,771 L128.8,771 L128.8,771.68 L129.3,771.68 L129.3,771.17 L129.8,771.17 L129.8,771.7 L130.3,771.7 L130.3,771.89 L130.8,771.89 L130.8,771.24 L131.3,771.24 L131.3,771.25 L131.8,771.25 L131.8,771.86 L132.3,771.86 L132.3,771.61 L132.8,771.61 L132.8,770.99 L133.3,770.99 L133.3,770.94 L133.8,770.94 L133.8,770.97 L134.3,770.97 L134.3,771.81 L134.8,771.81 L134.8,771.7 L135.3,771.7 L135.3,770.96 L135.8,770.96 L135.8,771.73 L136.3,771.73 L136.3,771.9 L136.8,771.9 L136.8,771.54 L137.3,771.54 L137.3,771.19 L137.8,771.19 L137.8,771.41 L138.3,771.41 L138.3,770.95 L138.8,770.95 L138.8,770.82 L139.3,770.82 L139.3,771.89 L139.8,771.89 L139.8,771.53 L140.3,771.53 L140.3,771.39 L140.8,771.39 L140.8,771.85 L141.3,771.85 L141.3,771.29 L141.8,771.29 L141.8,771.78 L142.3,771.78 L142.3,771.73 L142.8,771.73 L142.8,771.04 L143.3,771.04 L143.3,771.08 L143.8,771.08 L143.8,771.13 L144.3,771.13 L144.3,771.07 L144.8,771.07 L144.8,771.46 L145.3,771.46 L145.3,771.09 L145.8,771.09 L145.8,771.27 L146.3,771.27 L146.3,770.95 L146.8,770.95 L146.8,771.82 L147.3,771.82 L147.3,771.2 L147.8,771.2 L147.8,771.31 L148.3,771.31 L148.3,771.45 L148.8,771.45 L148.8,771.81 L149.3,771.81 L149.3,771.27 L149.8,771.27 L149.8,771.83 L150.3,771.83 L150.3,771.36 L150.8,771.36 L150.8,771.4 L151.3,771.4 L151.3,771.39 L151.8,771.39 L151.8,770.82 L152.3,770.82 L152.3,771.29 L152.8,771.29 L152.8,771.01 L153.3,771.01 L153.3,770.8 L153.8,770.8 L153.8,771.7 L154.3,771.7 L154.3,770.99 L154.8,770.99 L154.8,771.33 L155.3,771.33 L155.3,771.61 L155.8,771.61 L155.8,771.42 L156.3,771.42 L156.3,771.17 L156.8,771.17 L156.8,771.38 L157.3,771.38 L157.3,771.42 L157.8,771.42 L157.8,771.68 L158.3,771.68 L158.3,770.92 L158.8,770.92 L158.8,771.43 L159.3,771.43 L159.3,771.08 L159.8,771.08 L159.8,771.11 L160.3,771.11 L160.3,771.96 L160.8,771.96 L160.8,772.17 L161.3,772.17 L161.3,772.73 L161.8,772.73 L161.8,773.45 L162.3,773.45 L162.3,773.86 L162.8,773.86 L162.8,773.41 L163.3,773.41 L163.3,773.66 L163.8,773.66 L163.8,773.61 L164.3,773.61 L164.3,773.69 L164.8,773.69 L164.8,773.96 L165.3,773.96 L165.3,773.76 L165.8,773.76 L165.8,773.92 L166.3,773.92 L166.3,773.93 L166.8,773.93 L166.8,774.51 L167.3,774.51 L167.3,774.31 L167.8,774.31 L167.8,774.58 L168.3,774.58 L168.3,774.72 L168.8,774.72 L168.8,774.03 L169.3,774.03 L169.3,774.43 L169.8,774.43 L169.8,774.93 L170.3,774.93 L170.3,774.84 L170.8,774.84 L170.8,774.05 L171.3,774.05 L171.3,774.04 L171.8,774.04 L171.8,774.4 L172.3,774.4 L172.3,773.98 L172.8,773.98 L172.8,774.17 L173.3,774.17 L173.3,773.98 L173.8,773.98 L173.8,774.65 L174.3,774.65 L174.3,774.78 L174.8,774.78 L174.8,774.9 L175.3,774.9 L175.3,774.07 L175.8,774.07 L175.8,774.7 L176.3,774.7 L176.3,774.64 L176.8,774.64 L176.8,774.06 L177.3,774.06 L177.3,774.89 L177.8,774.89 L177.8,774.98 L178.3,774.98 L178.3,774.15 L178.8,774.15 L178.8,774.97 L179.3,774.97 L179.3,774.35 L179.8,774.35 L179.8,774.45 L180.3,774.45 L180.3,775.01 L180.8,775.01 L180.8,774.83 L181.3,774.83 L181.3,774.08 L181.8,774.08 L181.8,774.38 L182.3,774.38 L182.3,774.48 L182.8,774.48 L182.8,774.28 L183.3,774.28 L183.3,774.12 L183.8,774.12 L183.8,774.26 L184.3,774.26 L184.3,774.71 L184.8,774.71 L184.8,773.92 L185.3,773.92 L185.3,774.52 L185.8,774.52 L185.8,774.39 L186.3,774.39 L186.3,773.92 L186.8,773.92 L186.8,774.27 L187.3,774.27 L187.3,774.6 L187.8,774.6 L187.8,774.47 L188.3,774.47 L188.3,773.97 L188.8,773.97 L188.8,775 L189.3,775 L189.3,774.78 L189.8,774.78 L189.8,774.99 L190.3,774.99 L190.3,774.02 L190.8,774.02 L190.8,774.2 L191.3,774.2 L191.3,773.94 L191.8,773.94 L191.8,774.77 L192.3,774.77 L192.3,774.2 L192.8,774.2 L192.8,774.05 L193.3,774.05 L193.3,774.37 L193.8,774.37 L193.8,774.92 L194.3,774.92 L194.3,774.82 L194.8,774.82 L194.8,774.19 L195.3,774.19 L195.3,774.07 L195.8,774.07 L195.8,774.93 L196.3,774.93 L196.3,774.54 L196.8,774.54 L196.8,774.68 L197.3,774.68 L197.3,774 L197.8,774 L197.8,773.96 L198.3,773.96 L198.3,774.67 L198.8,774.67 L198.8,774.38 L199.3,774.38 L199.3,773.98 L199.8,773.98 L199.8,774.95 L200.3,774.95 L200.3,774.61 L200.8,774.61 L200.8,774.8 L201.3,774.8 L201.3,773.99 L201.8,773.99 L201.8,774.86 L202.3,774.86 L202.3,773.97 L202.8,773.97 L202.8,774.87 L203.3,774.87 L203.3,774.41 L203.8,774.41 L203.8,774.28 L204.3,774.28 L204.3,774.52 L204.8,774.52 L204.8,774.94 L205.3,774.94 L205.3,774.2 L205.8,774.2 L205.8,774.04 L206.3,774.04 L206.3,774.49 L206.8,774.49 L206.8,774.17 L207.3,774.17 L207.3,774.02 L207.8,774.02 L207.8,774.08 L208.3,774.08 L208.3,773.96 L208.8,773.96 L208.4,775.5 Z" fill="#fd9d12"/>
<line x1="61.9" y1="654.2" x2="61.9" y2="775.5" stroke="#888" stroke-width="0.9"/>
<line x1="75.5" y1="654.2" x2="75.5" y2="775.5" stroke="#222" stroke-width="1.1"/>
<line x1="109.7" y1="654.2" x2="109.7" y2="775.5" stroke="#333" stroke-width="0.9"/>
<line x1="123.2" y1="654.2" x2="123.2" y2="775.5" stroke="#777" stroke-width="0.9"/>
<line x1="22.7" y1="654.2" x2="209" y2="654.2" stroke="#3a3a3a" stroke-width="1.3"/>
<line x1="209" y1="654.2" x2="209" y2="775.5" stroke="#f2e2b0" stroke-width="1"/>
<line x1="24.7" y1="654.2" x2="24.7" y2="776" stroke="#9a9a9a" stroke-width="1.4"/>
<rect x="208.35" y="741" width="1.3" height="34.5" fill="#e8b868"/>
<line x1="24.2" y1="775.5" x2="209.5" y2="775.5" stroke="#2a2a2a" stroke-width="1.5"/>
<line x1="21.9" y1="775.5" x2="24.1" y2="775.5" stroke="#333" stroke-width="1"/>
<line x1="22.7" y1="770.65" x2="24.1" y2="770.65" stroke="#333" stroke-width="1"/>
<line x1="22.7" y1="765.8" x2="24.1" y2="765.8" stroke="#333" stroke-width="1"/>
<line x1="22.7" y1="760.94" x2="24.1" y2="760.94" stroke="#333" stroke-width="1"/>
<line x1="22.7" y1="756.09" x2="24.1" y2="756.09" stroke="#333" stroke-width="1"/>
<line x1="21.9" y1="751.24" x2="24.1" y2="751.24" stroke="#333" stroke-width="1"/>
<line x1="22.7" y1="746.39" x2="24.1" y2="746.39" stroke="#333" stroke-width="1"/>
<line x1="22.7" y1="741.54" x2="24.1" y2="741.54" stroke="#333" stroke-width="1"/>
<line x1="22.7" y1="736.68" x2="24.1" y2="736.68" stroke="#333" stroke-width="1"/>
<line x1="22.7" y1="731.83" x2="24.1" y2="731.83" stroke="#333" stroke-width="1"/>
<line x1="21.9" y1="726.98" x2="24.1" y2="726.98" stroke="#333" stroke-width="1"/>
<line x1="22.7" y1="722.13" x2="24.1" y2="722.13" stroke="#333" stroke-width="1"/>
<line x1="22.7" y1="717.28" x2="24.1" y2="717.28" stroke="#333" stroke-width="1"/>
<line x1="22.7" y1="712.42" x2="24.1" y2="712.42" stroke="#333" stroke-width="1"/>
<line x1="22.7" y1="707.57" x2="24.1" y2="707.57" stroke="#333" stroke-width="1"/>
<line x1="21.9" y1="702.72" x2="24.1" y2="702.72" stroke="#333" stroke-width="1"/>
<line x1="22.7" y1="697.87" x2="24.1" y2="697.87" stroke="#333" stroke-width="1"/>
<line x1="22.7" y1="693.02" x2="24.1" y2="693.02" stroke="#333" stroke-width="1"/>
<line x1="22.7" y1="688.16" x2="24.1" y2="688.16" stroke="#333" stroke-width="1"/>
<line x1="22.7" y1="683.31" x2="24.1" y2="683.31" stroke="#333" stroke-width="1"/>
<line x1="21.9" y1="678.46" x2="24.1" y2="678.46" stroke="#333" stroke-width="1"/>
<line x1="22.7" y1="673.61" x2="24.1" y2="673.61" stroke="#333" stroke-width="1"/>
<line x1="22.7" y1="668.76" x2="24.1" y2="668.76" stroke="#333" stroke-width="1"/>
<line x1="22.7" y1="663.9" x2="24.1" y2="663.9" stroke="#333" stroke-width="1"/>
<line x1="22.7" y1="659.05" x2="24.1" y2="659.05" stroke="#333" stroke-width="1"/>
<line x1="21.9" y1="654.2" x2="24.1" y2="654.2" stroke="#333" stroke-width="1"/>
<line x1="24.7" y1="775.5" x2="24.7" y2="778.3" stroke="#444" stroke-width="0.9"/>
<line x1="30.7" y1="775.5" x2="30.7" y2="777.3" stroke="#444" stroke-width="0.9"/>
<line x1="36.7" y1="775.5" x2="36.7" y2="777.3" stroke="#444" stroke-width="0.9"/>
<line x1="42.7" y1="775.5" x2="42.7" y2="777.3" stroke="#444" stroke-width="0.9"/>
<line x1="48.7" y1="775.5" x2="48.7" y2="777.3" stroke="#444" stroke-width="0.9"/>
<line x1="54.7" y1="775.5" x2="54.7" y2="777.3" stroke="#444" stroke-width="0.9"/>
<line x1="60.7" y1="775.5" x2="60.7" y2="778.3" stroke="#444" stroke-width="0.9"/>
<line x1="66.7" y1="775.5" x2="66.7" y2="777.3" stroke="#444" stroke-width="0.9"/>
<line x1="72.69" y1="775.5" x2="72.69" y2="777.3" stroke="#444" stroke-width="0.9"/>
<line x1="78.69" y1="775.5" x2="78.69" y2="777.3" stroke="#444" stroke-width="0.9"/>
<line x1="84.69" y1="775.5" x2="84.69" y2="777.3" stroke="#444" stroke-width="0.9"/>
<line x1="90.69" y1="775.5" x2="90.69" y2="777.3" stroke="#444" stroke-width="0.9"/>
<line x1="96.69" y1="775.5" x2="96.69" y2="778.3" stroke="#444" stroke-width="0.9"/>
<line x1="102.69" y1="775.5" x2="102.69" y2="777.3" stroke="#444" stroke-width="0.9"/>
<line x1="108.69" y1="775.5" x2="108.69" y2="777.3" stroke="#444" stroke-width="0.9"/>
<line x1="114.69" y1="775.5" x2="114.69" y2="777.3" stroke="#444" stroke-width="0.9"/>
<line x1="120.69" y1="775.5" x2="120.69" y2="777.3" stroke="#444" stroke-width="0.9"/>
<line x1="126.69" y1="775.5" x2="126.69" y2="777.3" stroke="#444" stroke-width="0.9"/>
<line x1="132.69" y1="775.5" x2="132.69" y2="778.3" stroke="#444" stroke-width="0.9"/>
<line x1="138.69" y1="775.5" x2="138.69" y2="777.3" stroke="#444" stroke-width="0.9"/>
<line x1="144.69" y1="775.5" x2="144.69" y2="777.3" stroke="#444" stroke-width="0.9"/>
<line x1="150.69" y1="775.5" x2="150.69" y2="777.3" stroke="#444" stroke-width="0.9"/>
<line x1="156.69" y1="775.5" x2="156.69" y2="777.3" stroke="#444" stroke-width="0.9"/>
<line x1="162.69" y1="775.5" x2="162.69" y2="777.3" stroke="#444" stroke-width="0.9"/>
<line x1="168.68" y1="775.5" x2="168.68" y2="778.3" stroke="#444" stroke-width="0.9"/>
<line x1="174.68" y1="775.5" x2="174.68" y2="777.3" stroke="#444" stroke-width="0.9"/>
<line x1="180.68" y1="775.5" x2="180.68" y2="777.3" stroke="#444" stroke-width="0.9"/>
<line x1="186.68" y1="775.5" x2="186.68" y2="777.3" stroke="#444" stroke-width="0.9"/>
<line x1="192.68" y1="775.5" x2="192.68" y2="777.3" stroke="#444" stroke-width="0.9"/>
<line x1="198.68" y1="775.5" x2="198.68" y2="777.3" stroke="#444" stroke-width="0.9"/>
<line x1="204.68" y1="775.5" x2="204.68" y2="778.3" stroke="#444" stroke-width="0.9"/>
<text x="62.4" y="650.8" font-size="10.2" fill="#1a1a1a" textLength="14.57" lengthAdjust="spacingAndGlyphs" letter-spacing="0.27">G1</text>
<text x="89.5" y="650.8" font-size="10.2" fill="#1a1a1a" textLength="6.42" lengthAdjust="spacingAndGlyphs">S</text>
<text x="107.8" y="650.8" font-size="10.2" fill="#1a1a1a" textLength="15.43" lengthAdjust="spacingAndGlyphs" letter-spacing="0.51">G2</text>
<text x="162.4" y="648.9" font-size="12.2" fill="#1a1a1a" textLength="41.6" lengthAdjust="spacingAndGlyphs" letter-spacing="0.63">Exp#1</text>
<text x="79.3" y="697.1" font-size="10.2" fill="#1a1a1a" textLength="25.43" lengthAdjust="spacingAndGlyphs" letter-spacing="0.82">40%</text>
<line x1="91" y1="701.6" x2="91" y2="716.5" stroke="#1a1a1a" stroke-width="1.3"/>
<path d="M88.4,715.3 L93.6,715.3 L91,720.5 Z" fill="#1a1a1a"/>
<text transform="translate(16.6,663.8) rotate(-90)" x="-0" font-size="11.2" fill="#1a1a1a" textLength="21.98" lengthAdjust="spacingAndGlyphs">400</text>
<text transform="translate(15.4,733.7) rotate(-90)" x="-0" font-size="11.6" fill="#1a1a1a" textLength="39.03" lengthAdjust="spacingAndGlyphs">Events</text>
<text transform="translate(16.6,777.7) rotate(-90)" x="-0" font-size="11.2" fill="#1a1a1a" textLength="5.11" lengthAdjust="spacingAndGlyphs">0</text>
<text x="21.5" y="791.8" font-size="11" fill="#1a1a1a" textLength="6.81" lengthAdjust="spacingAndGlyphs">0</text>
<text x="69.4" y="797.4" font-size="12" fill="#1a1a1a" textLength="43.75" lengthAdjust="spacingAndGlyphs" letter-spacing="0.76">7-AAD</text>
<text x="196.8" y="792" font-size="11" fill="#1a1a1a" textLength="30.13" lengthAdjust="spacingAndGlyphs" letter-spacing="0.66">1000</text>
<path d="M262.2,775.4 L262.2,774.21 L262.7,774.21 L262.7,774.08 L263.2,774.08 L263.2,773.8 L263.7,773.8 L263.7,774.59 L264.2,774.59 L264.2,773.6 L264.7,773.6 L264.7,774.13 L265.2,774.13 L265.2,774.55 L265.7,774.55 L265.7,773.61 L266.2,773.61 L266.2,774.11 L266.7,774.11 L266.7,774.16 L267.2,774.16 L267.2,773.49 L267.7,773.49 L267.7,773.84 L268.2,773.84 L268.2,774.18 L268.7,774.18 L268.7,773.87 L269.2,773.87 L269.2,774.15 L269.7,774.15 L269.7,773.49 L270.2,773.49 L270.2,773.56 L270.7,773.56 L270.7,773.39 L271.2,773.39 L271.2,773.81 L271.7,773.81 L271.7,774.25 L272.2,774.25 L272.2,773.85 L272.7,773.85 L272.7,774.03 L273.2,774.03 L273.2,773.57 L273.7,773.57 L273.7,773.95 L274.2,773.95 L274.2,773.2 L274.7,773.2 L274.7,773.39 L275.2,773.39 L275.2,773.8 L275.7,773.8 L275.7,773.83 L276.2,773.83 L276.2,773.46 L276.7,773.46 L276.7,773.06 L277.2,773.06 L277.2,773.24 L277.7,773.24 L277.7,773.15 L278.2,773.15 L278.2,773.2 L278.7,773.2 L278.7,773.77 L279.2,773.77 L279.2,773.06 L279.7,773.06 L279.7,773.81 L280.2,773.81 L280.2,773.77 L280.7,773.77 L280.7,772.83 L281.2,772.83 L281.2,773.16 L281.7,773.16 L281.7,773.27 L282.2,773.27 L282.2,772.72 L282.7,772.72 L282.7,773.14 L283.2,773.14 L283.2,773.66 L283.7,773.66 L283.7,772.74 L284.2,772.74 L284.2,773.26 L284.7,773.26 L284.7,772.7 L285.2,772.7 L285.2,773.19 L285.7,773.19 L285.7,773.52 L286.2,773.52 L286.2,772.72 L286.7,772.72 L286.7,772.47 L287.2,772.47 L287.2,772.53 L287.7,772.53 L287.7,773.02 L288.2,773.02 L288.2,772.41 L288.7,772.41 L288.7,772.46 L289.2,772.46 L289.2,772.9 L289.7,772.9 L289.7,773.35 L290.2,773.35 L290.2,772.75 L290.7,772.75 L290.7,772.69 L291.2,772.69 L291.2,772.92 L291.7,772.92 L291.7,772.27 L292.2,772.27 L292.2,772.77 L292.7,772.77 L292.7,772.28 L293.2,772.28 L293.2,772.73 L293.7,772.73 L293.7,773.08 L294.2,773.08 L294.2,772.02 L294.7,772.02 L294.7,772.55 L295.2,772.55 L295.2,772.56 L295.7,772.56 L295.7,772.01 L296.2,772.01 L296.2,772.1 L296.7,772.1 L296.7,772.88 L297.2,772.88 L297.2,772.84 L297.7,772.84 L297.7,771.82 L298.2,771.82 L298.2,772.43 L298.7,772.43 L298.7,772.67 L299.2,772.67 L299.2,771.83 L299.7,771.83 L299.7,772.21 L300.2,772.21 L300.2,771.03 L300.7,771.03 L300.7,770.09 L301.2,770.09 L301.2,769.22 L301.7,769.22 L301.7,768.02 L302.2,768.02 L302.2,767.13 L302.7,767.13 L302.7,765.26 L303.2,765.26 L303.2,764.25 L303.7,764.25 L303.7,763.23 L304.2,763.23 L304.2,761.31 L304.7,761.31 L304.7,759.57 L305.2,759.57 L305.2,756.75 L305.7,756.75 L305.7,752.9 L306.2,752.9 L306.2,747.53 L306.7,747.53 L306.7,741.37 L307.2,741.37 L307.2,736.72 L307.7,736.72 L307.7,729.11 L308.2,729.11 L308.2,719.83 L308.7,719.83 L308.7,710.18 L309.2,710.18 L309.2,702.58 L309.7,702.58 L309.7,696.92 L310.2,696.92 L310.2,691.12 L310.7,691.12 L310.7,686.7 L311.2,686.7 L311.2,681.84 L311.7,681.84 L311.7,678.34 L312.2,678.34 L312.2,674.16 L312.7,674.16 L312.7,673.07 L313.2,673.07 L313.2,671.16 L313.7,671.16 L313.7,670.76 L314.2,670.76 L314.2,673.77 L314.7,673.77 L314.7,676.02 L315.2,676.02 L315.2,680.45 L315.7,680.45 L315.7,685.67 L316.2,685.67 L316.2,691.02 L316.7,691.02 L316.7,696.97 L317.2,696.97 L317.2,700.8 L317.7,700.8 L317.7,705.24 L318.2,705.24 L318.2,709.48 L318.7,709.48 L318.7,711.48 L319.2,711.48 L319.2,714.37 L319.7,714.37 L319.7,716.36 L320.2,716.36 L320.2,719.4 L320.7,719.4 L320.7,720.65 L321.2,720.65 L321.2,722.32 L321.7,722.32 L321.7,725.25 L322.2,725.25 L322.2,726.01 L322.7,726.01 L322.7,728.18 L323.2,728.18 L323.2,729.52 L323.7,729.52 L323.7,730.4 L324.2,730.4 L324.2,731.02 L324.7,731.02 L324.7,732.35 L325.2,732.35 L325.2,733.79 L325.7,733.79 L325.7,735.27 L326.2,735.27 L326.2,737.05 L326.7,737.05 L326.7,739.38 L327.2,739.38 L327.2,740.62 L327.7,740.62 L327.7,742.3 L328.2,742.3 L328.2,744.43 L328.7,744.43 L328.7,745.2 L329.2,745.2 L329.2,746.4 L329.7,746.4 L329.7,748.17 L330.2,748.17 L330.2,749.28 L330.7,749.28 L330.7,749.07 L331.2,749.07 L331.2,750.01 L331.7,750.01 L331.7,750.79 L332.2,750.79 L332.2,751.16 L332.7,751.16 L332.7,750.73 L333.2,750.73 L333.2,751.29 L333.7,751.29 L333.7,750.49 L334.2,750.49 L334.2,751.1 L334.7,751.1 L334.7,751.16 L335.2,751.16 L335.2,751.29 L335.7,751.29 L335.7,750.85 L336.2,750.85 L336.2,750.41 L336.7,750.41 L336.7,750.35 L337.2,750.35 L337.2,750.89 L337.7,750.89 L337.7,750.49 L338.2,750.49 L338.2,751.01 L338.7,751.01 L338.7,750.39 L339.2,750.39 L339.2,751.17 L339.7,751.17 L339.7,750.55 L340.2,750.55 L340.2,750.31 L340.7,750.31 L340.7,750.5 L341.2,750.5 L341.2,750.81 L341.7,750.81 L341.7,750.93 L342.2,750.93 L342.2,750.73 L342.7,750.73 L342.7,750.49 L343.2,750.49 L343.2,750.84 L343.7,750.84 L343.7,751.36 L344.2,751.36 L344.2,750.7 L344.7,750.7 L344.7,750.65 L345.2,750.65 L345.2,749.13 L345.7,749.13 L345.7,749.71 L346.2,749.71 L346.2,749.3 L346.7,749.3 L346.7,748.91 L347.2,748.91 L347.2,748.89 L347.7,748.89 L347.7,748.9 L348.2,748.9 L348.2,749.32 L348.7,749.32 L348.7,748.37 L349.2,748.37 L349.2,749.02 L349.7,749.02 L349.7,748.91 L350.2,748.91 L350.2,748.64 L350.7,748.64 L350.7,749.11 L351.2,749.11 L351.2,749.11 L351.7,749.11 L351.7,748.42 L352.2,748.42 L352.2,748.08 L352.7,748.08 L352.7,745.31 L353.2,745.31 L353.2,744.85 L353.7,744.85 L353.7,747.51 L354.2,747.51 L354.2,748.11 L354.7,748.11 L354.7,748.1 L355.2,748.1 L355.2,747.22 L355.7,747.22 L355.7,747.16 L356.2,747.16 L356.2,746.57 L356.7,746.57 L356.7,748.51 L357.2,748.51 L357.2,749.68 L357.7,749.68 L357.7,750.83 L358.2,750.83 L358.2,752.14 L358.7,752.14 L358.7,751.85 L359.2,751.85 L359.2,753.13 L359.7,753.13 L359.7,753.8 L360.2,753.8 L360.2,754.52 L360.7,754.52 L360.7,754.87 L361.2,754.87 L361.2,755.04 L361.7,755.04 L361.7,755.6 L362.2,755.6 L362.2,756.48 L362.7,756.48 L362.7,756.42 L363.2,756.42 L363.2,756.71 L363.7,756.71 L363.7,757.45 L364.2,757.45 L364.2,758.04 L364.7,758.04 L364.7,758.65 L365.2,758.65 L365.2,758.61 L365.7,758.61 L365.7,759.98 L366.2,759.98 L366.2,760.02 L366.7,760.02 L366.7,761.06 L367.2,761.06 L367.2,760.68 L367.7,760.68 L367.7,762.18 L368.2,762.18 L368.2,762.2 L368.7,762.2 L368.7,763.07 L369.2,763.07 L369.2,763.51 L369.7,763.51 L369.7,763.77 L370.2,763.77 L370.2,763.29 L370.7,763.29 L370.7,763.74 L371.2,763.74 L371.2,763.78 L371.7,763.78 L371.7,764.57 L372.2,764.57 L372.2,764.15 L372.7,764.15 L372.7,764.51 L373.2,764.51 L373.2,764.72 L373.7,764.72 L373.7,765.07 L374.2,765.07 L374.2,766.32 L374.7,766.32 L374.7,766.69 L375.2,766.69 L375.2,766.28 L375.7,766.28 L375.7,766.84 L376.2,766.84 L376.2,766.68 L376.7,766.68 L376.7,766.89 L377.2,766.89 L377.2,766.87 L377.7,766.87 L377.7,767.32 L378.2,767.32 L378.2,767.02 L378.7,767.02 L378.7,767.2 L379.2,767.2 L379.2,767.64 L379.7,767.64 L379.7,767.43 L380.2,767.43 L380.2,767.87 L380.7,767.87 L380.7,768.64 L381.2,768.64 L381.2,767.8 L381.7,767.8 L381.7,768.1 L382.2,768.1 L382.2,769.08 L382.7,769.08 L382.7,768.44 L383.2,768.44 L383.2,768.86 L383.7,768.86 L383.7,769.73 L384.2,769.73 L384.2,769.66 L384.7,769.66 L384.7,769.43 L385.2,769.43 L385.2,769.42 L385.7,769.42 L385.7,769.79 L386.2,769.79 L386.2,769.95 L386.7,769.95 L386.7,770.64 L387.2,770.64 L387.2,770.96 L387.7,770.96 L387.7,770.88 L388.2,770.88 L388.2,771.14 L388.7,771.14 L388.7,771.3 L389.2,771.3 L389.2,771.37 L389.7,771.37 L389.7,771.55 L390.2,771.55 L390.2,771.68 L390.7,771.68 L390.7,770.71 L391.2,770.71 L391.2,770.96 L391.7,770.96 L391.7,770.88 L392.2,770.88 L392.2,771.28 L392.7,771.28 L392.7,771.15 L393.2,771.15 L393.2,770.99 L393.7,770.99 L393.7,771.54 L394.2,771.54 L394.2,771.05 L394.7,771.05 L394.7,770.83 L395.2,770.83 L395.2,770.91 L395.7,770.91 L395.7,771.12 L396.2,771.12 L396.2,771.28 L396.7,771.28 L396.7,771.24 L397.2,771.24 L397.2,771.09 L397.7,771.09 L397.7,770.81 L398.2,770.81 L398.2,771.05 L398.7,771.05 L398.7,770.96 L399.2,770.96 L399.2,770.79 L399.7,770.79 L399.7,771.21 L400.2,771.21 L400.2,770.79 L400.7,770.79 L400.7,771.31 L401.2,771.31 L401.2,771.18 L401.7,771.18 L401.7,770.54 L402.2,770.54 L402.2,771.02 L402.7,771.02 L402.7,770.63 L403.2,770.63 L403.2,770.69 L403.7,770.69 L403.7,770.8 L404.2,770.8 L404.2,770.91 L404.7,770.91 L404.7,770.99 L405.2,770.99 L405.2,770.75 L405.7,770.75 L405.7,770.1 L406.2,770.1 L406.2,770.41 L406.7,770.41 L406.7,770.11 L407.2,770.11 L407.2,769.72 L407.7,769.72 L407.7,770.32 L408.2,770.32 L408.2,770.23 L408.7,770.23 L408.7,770.67 L409.2,770.67 L409.2,770.06 L409.7,770.06 L409.7,770.63 L410.2,770.63 L410.2,770.28 L410.7,770.28 L410.7,769.81 L411.2,769.81 L411.2,770.5 L411.7,770.5 L411.7,770.02 L412.2,770.02 L412.2,770.3 L412.7,770.3 L412.7,769.78 L413.2,769.78 L413.2,769.71 L413.7,769.71 L413.7,770.73 L414.2,770.73 L414.2,769.93 L414.7,769.93 L414.7,770.5 L415.2,770.5 L415.2,770.96 L415.7,770.96 L415.7,771.34 L416.2,771.34 L416.2,772.42 L416.7,772.42 L416.7,772.61 L417.2,772.61 L417.2,772.23 L417.7,772.23 L417.7,771.94 L418.2,771.94 L418.2,772.5 L418.7,772.5 L418.7,772.07 L419.2,772.07 L419.2,771.65 L419.7,771.65 L419.7,772.27 L420.2,772.27 L420.2,771.9 L420.7,771.9 L420.7,771.8 L421.2,771.8 L421.2,771.86 L421.7,771.86 L421.7,771.93 L422.2,771.93 L422.2,771.7 L422.7,771.7 L422.7,772.19 L423.2,772.19 L423.2,772.47 L423.7,772.47 L423.7,772.14 L424.2,772.14 L424.2,771.51 L424.7,771.51 L424.7,772.27 L425.2,772.27 L425.2,771.82 L425.7,771.82 L425.7,773.09 L426.2,773.09 L426.2,773.97 L426.7,773.97 L426.7,773.76 L427.2,773.76 L427.2,774.02 L427.7,774.02 L427.7,773.85 L428.2,773.85 L428.2,773.31 L428.7,773.31 L428.7,773.16 L429.2,773.16 L429.2,773.51 L429.7,773.51 L429.7,773.76 L430.2,773.76 L430.2,773.26 L430.7,773.26 L430.7,773.37 L431.2,773.37 L431.2,773.84 L431.7,773.84 L431.7,773.39 L432.2,773.39 L432.2,773.67 L432.7,773.67 L432.7,773.61 L433.2,773.61 L433.2,774.04 L433.7,774.04 L433.7,773.03 L434.2,773.03 L434.2,773.21 L434.7,773.21 L434.7,773.87 L435.2,773.87 L435.2,773.75 L435.7,773.75 L435.7,773.11 L436.2,773.11 L436.2,773.15 L436.7,773.15 L436.7,773.24 L437.2,773.24 L437.2,773.61 L437.7,773.61 L437.7,774.01 L438.2,774.01 L438.2,773.24 L438.7,773.24 L438.7,773.23 L439.2,773.23 L439.2,773.77 L439.7,773.77 L439.7,773.47 L440.2,773.47 L440.2,773.95 L440.7,773.95 L440.7,774.12 L441.2,774.12 L441.2,774.05 L441.7,774.05 L441.7,773.8 L442.2,773.8 L442.2,773.56 L442.7,773.56 L442.7,773.07 L443.2,773.07 L443.2,773.91 L443.7,773.91 L443.7,773.45 L444.2,773.45 L444.2,773.52 L444.7,773.52 L444.7,773.71 L445.2,773.71 L445.2,774.08 L445.7,774.08 L445.7,773.62 L446.2,773.62 L446.2,774.03 L446.7,774.03 L446.5,775.4 Z" fill="#fd9d12"/>
<line x1="307.9" y1="653.6" x2="307.9" y2="775.4" stroke="#888" stroke-width="0.9"/>
<line x1="321.3" y1="653.6" x2="321.3" y2="775.4" stroke="#222" stroke-width="1.1"/>
<line x1="355.6" y1="653.6" x2="355.6" y2="775.4" stroke="#333" stroke-width="0.9"/>
<line x1="369.3" y1="653.6" x2="369.3" y2="775.4" stroke="#555" stroke-width="0.9"/>
<line x1="259.6" y1="653.6" x2="447.1" y2="653.6" stroke="#3a3a3a" stroke-width="1.3"/>
<line x1="447.1" y1="653.6" x2="447.1" y2="775.4" stroke="#f2e2b0" stroke-width="1"/>
<line x1="261.6" y1="653.6" x2="261.6" y2="775.9" stroke="#9a9a9a" stroke-width="1.4"/>
<rect x="446.45" y="715" width="1.3" height="60.4" fill="#7a6440"/>
<line x1="261.1" y1="775.4" x2="447.6" y2="775.4" stroke="#2a2a2a" stroke-width="1.5"/>
<line x1="258.8" y1="775.4" x2="261" y2="775.4" stroke="#333" stroke-width="1"/>
<line x1="259.6" y1="770.53" x2="261" y2="770.53" stroke="#333" stroke-width="1"/>
<line x1="259.6" y1="765.66" x2="261" y2="765.66" stroke="#333" stroke-width="1"/>
<line x1="259.6" y1="760.78" x2="261" y2="760.78" stroke="#333" stroke-width="1"/>
<line x1="259.6" y1="755.91" x2="261" y2="755.91" stroke="#333" stroke-width="1"/>
<line x1="258.8" y1="751.04" x2="261" y2="751.04" stroke="#333" stroke-width="1"/>
<line x1="259.6" y1="746.17" x2="261" y2="746.17" stroke="#333" stroke-width="1"/>
<line x1="259.6" y1="741.3" x2="261" y2="741.3" stroke="#333" stroke-width="1"/>
<line x1="259.6" y1="736.42" x2="261" y2="736.42" stroke="#333" stroke-width="1"/>
<line x1="259.6" y1="731.55" x2="261" y2="731.55" stroke="#333" stroke-width="1"/>
<line x1="258.8" y1="726.68" x2="261" y2="726.68" stroke="#333" stroke-width="1"/>
<line x1="259.6" y1="721.81" x2="261" y2="721.81" stroke="#333" stroke-width="1"/>
<line x1="259.6" y1="716.94" x2="261" y2="716.94" stroke="#333" stroke-width="1"/>
<line x1="259.6" y1="712.06" x2="261" y2="712.06" stroke="#333" stroke-width="1"/>
<line x1="259.6" y1="707.19" x2="261" y2="707.19" stroke="#333" stroke-width="1"/>
<line x1="258.8" y1="702.32" x2="261" y2="702.32" stroke="#333" stroke-width="1"/>
<line x1="259.6" y1="697.45" x2="261" y2="697.45" stroke="#333" stroke-width="1"/>
<line x1="259.6" y1="692.58" x2="261" y2="692.58" stroke="#333" stroke-width="1"/>
<line x1="259.6" y1="687.7" x2="261" y2="687.7" stroke="#333" stroke-width="1"/>
<line x1="259.6" y1="682.83" x2="261" y2="682.83" stroke="#333" stroke-width="1"/>
<line x1="258.8" y1="677.96" x2="261" y2="677.96" stroke="#333" stroke-width="1"/>
<line x1="259.6" y1="673.09" x2="261" y2="673.09" stroke="#333" stroke-width="1"/>
<line x1="259.6" y1="668.22" x2="261" y2="668.22" stroke="#333" stroke-width="1"/>
<line x1="259.6" y1="663.34" x2="261" y2="663.34" stroke="#333" stroke-width="1"/>
<line x1="259.6" y1="658.47" x2="261" y2="658.47" stroke="#333" stroke-width="1"/>
<line x1="258.8" y1="653.6" x2="261" y2="653.6" stroke="#333" stroke-width="1"/>
<line x1="261.6" y1="775.4" x2="261.6" y2="778.2" stroke="#444" stroke-width="0.9"/>
<line x1="267.64" y1="775.4" x2="267.64" y2="777.2" stroke="#444" stroke-width="0.9"/>
<line x1="273.68" y1="775.4" x2="273.68" y2="777.2" stroke="#444" stroke-width="0.9"/>
<line x1="279.72" y1="775.4" x2="279.72" y2="777.2" stroke="#444" stroke-width="0.9"/>
<line x1="285.75" y1="775.4" x2="285.75" y2="777.2" stroke="#444" stroke-width="0.9"/>
<line x1="291.79" y1="775.4" x2="291.79" y2="777.2" stroke="#444" stroke-width="0.9"/>
<line x1="297.83" y1="775.4" x2="297.83" y2="778.2" stroke="#444" stroke-width="0.9"/>
<line x1="303.87" y1="775.4" x2="303.87" y2="777.2" stroke="#444" stroke-width="0.9"/>
<line x1="309.91" y1="775.4" x2="309.91" y2="777.2" stroke="#444" stroke-width="0.9"/>
<line x1="315.95" y1="775.4" x2="315.95" y2="777.2" stroke="#444" stroke-width="0.9"/>
<line x1="321.98" y1="775.4" x2="321.98" y2="777.2" stroke="#444" stroke-width="0.9"/>
<line x1="328.02" y1="775.4" x2="328.02" y2="777.2" stroke="#444" stroke-width="0.9"/>
<line x1="334.06" y1="775.4" x2="334.06" y2="778.2" stroke="#444" stroke-width="0.9"/>
<line x1="340.1" y1="775.4" x2="340.1" y2="777.2" stroke="#444" stroke-width="0.9"/>
<line x1="346.14" y1="775.4" x2="346.14" y2="777.2" stroke="#444" stroke-width="0.9"/>
<line x1="352.18" y1="775.4" x2="352.18" y2="777.2" stroke="#444" stroke-width="0.9"/>
<line x1="358.21" y1="775.4" x2="358.21" y2="777.2" stroke="#444" stroke-width="0.9"/>
<line x1="364.25" y1="775.4" x2="364.25" y2="777.2" stroke="#444" stroke-width="0.9"/>
<line x1="370.29" y1="775.4" x2="370.29" y2="778.2" stroke="#444" stroke-width="0.9"/>
<line x1="376.33" y1="775.4" x2="376.33" y2="777.2" stroke="#444" stroke-width="0.9"/>
<line x1="382.37" y1="775.4" x2="382.37" y2="777.2" stroke="#444" stroke-width="0.9"/>
<line x1="388.41" y1="775.4" x2="388.41" y2="777.2" stroke="#444" stroke-width="0.9"/>
<line x1="394.45" y1="775.4" x2="394.45" y2="777.2" stroke="#444" stroke-width="0.9"/>
<line x1="400.48" y1="775.4" x2="400.48" y2="777.2" stroke="#444" stroke-width="0.9"/>
<line x1="406.52" y1="775.4" x2="406.52" y2="778.2" stroke="#444" stroke-width="0.9"/>
<line x1="412.56" y1="775.4" x2="412.56" y2="777.2" stroke="#444" stroke-width="0.9"/>
<line x1="418.6" y1="775.4" x2="418.6" y2="777.2" stroke="#444" stroke-width="0.9"/>
<line x1="424.64" y1="775.4" x2="424.64" y2="777.2" stroke="#444" stroke-width="0.9"/>
<line x1="430.68" y1="775.4" x2="430.68" y2="777.2" stroke="#444" stroke-width="0.9"/>
<line x1="436.71" y1="775.4" x2="436.71" y2="777.2" stroke="#444" stroke-width="0.9"/>
<line x1="442.75" y1="775.4" x2="442.75" y2="778.2" stroke="#444" stroke-width="0.9"/>
<text x="306" y="650.2" font-size="10.2" fill="#1a1a1a" textLength="14" lengthAdjust="spacingAndGlyphs" letter-spacing="0.11">G1</text>
<text x="333.7" y="650.2" font-size="10.2" fill="#1a1a1a" textLength="5.82" lengthAdjust="spacingAndGlyphs">S</text>
<text x="351.2" y="650.2" font-size="10.2" fill="#1a1a1a" textLength="14.86" lengthAdjust="spacingAndGlyphs" letter-spacing="0.35">G2</text>
<text x="398.6" y="650.1" font-size="12.2" fill="#1a1a1a" textLength="42.84" lengthAdjust="spacingAndGlyphs" letter-spacing="0.74">Exp#2</text>
<text x="325.4" y="696.7" font-size="10.2" fill="#1a1a1a" textLength="24.68" lengthAdjust="spacingAndGlyphs" letter-spacing="0.7">32%</text>
<line x1="338.2" y1="701.1" x2="338.2" y2="716.3" stroke="#1a1a1a" stroke-width="1.3"/>
<path d="M335.6,715.1 L340.8,715.1 L338.2,720.3 Z" fill="#1a1a1a"/>
<text transform="translate(256.7,662.9) rotate(-90)" x="-0" font-size="11.2" fill="#1a1a1a" textLength="22.08" lengthAdjust="spacingAndGlyphs">400</text>
<text transform="translate(252.6,733) rotate(-90)" x="-0" font-size="11.6" fill="#1a1a1a" textLength="39.53" lengthAdjust="spacingAndGlyphs">Events</text>
<text transform="translate(256.8,778) rotate(-90)" x="-0" font-size="11.2" fill="#1a1a1a" textLength="5.41" lengthAdjust="spacingAndGlyphs">0</text>
<text x="257.7" y="791.2" font-size="11" fill="#1a1a1a" textLength="7.11" lengthAdjust="spacingAndGlyphs">0</text>
<text x="309.4" y="797" font-size="12" fill="#1a1a1a" textLength="45.21" lengthAdjust="spacingAndGlyphs" letter-spacing="0.89">7-AAD</text>
<text x="434.9" y="792" font-size="11" fill="#1a1a1a" textLength="29.55" lengthAdjust="spacingAndGlyphs" letter-spacing="0.59">1000</text>
</g>
<line x1="89.9" y1="851.4" x2="89.9" y2="1010.3" stroke="#1a1a1a" stroke-width="1.3"/>
<line x1="89.9" y1="1009.7" x2="344.2" y2="1009.7" stroke="#1a1a1a" stroke-width="1.3"/>
<line x1="84.7" y1="1009.7" x2="89.9" y2="1009.7" stroke="#1a1a1a" stroke-width="1.2"/>
<text x="76.1" y="1013.3" font-size="10.2" fill="#1a1a1a" textLength="6.61" lengthAdjust="spacingAndGlyphs">0</text>
<line x1="84.7" y1="957.13" x2="89.9" y2="957.13" stroke="#1a1a1a" stroke-width="1.2"/>
<text x="69.5" y="960.73" font-size="10.2" fill="#1a1a1a" textLength="14.05" lengthAdjust="spacingAndGlyphs" letter-spacing="0.75">25</text>
<line x1="84.7" y1="904.56" x2="89.9" y2="904.56" stroke="#1a1a1a" stroke-width="1.2"/>
<text x="69.5" y="908.16" font-size="10.2" fill="#1a1a1a" textLength="14.05" lengthAdjust="spacingAndGlyphs" letter-spacing="0.75">50</text>
<line x1="84.7" y1="851.99" x2="89.9" y2="851.99" stroke="#1a1a1a" stroke-width="1.2"/>
<text x="69.5" y="855.59" font-size="10.2" fill="#1a1a1a" textLength="14.05" lengthAdjust="spacingAndGlyphs" letter-spacing="0.75">75</text>
<line x1="120.6" y1="992.3" x2="120.6" y2="989" stroke="#1a1a1a" stroke-width="1.2"/>
<line x1="116.3" y1="989" x2="124.9" y2="989" stroke="#1a1a1a" stroke-width="1.4"/>
<rect x="114.05" y="993.15" width="13.1" height="16.3" fill="#c6c6c6" stroke="#1a1a1a" stroke-width="1.7"/>
<line x1="143.75" y1="1006.3" x2="143.75" y2="1005.3" stroke="#1a1a1a" stroke-width="1.2"/>
<line x1="139.45" y1="1005.3" x2="148.05" y2="1005.3" stroke="#1a1a1a" stroke-width="1.4"/>
<rect x="136.55" y="1007.15" width="14.4" height="2.3" fill="#f8c585" stroke="#1a1a1a" stroke-width="1.7"/>
<line x1="180.7" y1="950" x2="180.7" y2="947.7" stroke="#1a1a1a" stroke-width="1.2"/>
<line x1="176.4" y1="947.7" x2="185" y2="947.7" stroke="#1a1a1a" stroke-width="1.4"/>
<rect x="174.15" y="950.85" width="13.1" height="58.6" fill="#c6c6c6" stroke="#1a1a1a" stroke-width="1.7"/>
<line x1="203.75" y1="912.9" x2="203.75" y2="907.8" stroke="#1a1a1a" stroke-width="1.2"/>
<line x1="199.45" y1="907.8" x2="208.05" y2="907.8" stroke="#1a1a1a" stroke-width="1.4"/>
<rect x="196.65" y="913.75" width="14.2" height="95.7" fill="#f8c585" stroke="#1a1a1a" stroke-width="1.7"/>
<line x1="242.15" y1="887.3" x2="242.15" y2="882.2" stroke="#1a1a1a" stroke-width="1.2"/>
<line x1="237.85" y1="882.2" x2="246.45" y2="882.2" stroke="#1a1a1a" stroke-width="1.4"/>
<rect x="235.55" y="888.15" width="13.2" height="121.3" fill="#c6c6c6" stroke="#1a1a1a" stroke-width="1.7"/>
<line x1="265" y1="930.8" x2="265" y2="925.7" stroke="#1a1a1a" stroke-width="1.2"/>
<line x1="260.7" y1="925.7" x2="269.3" y2="925.7" stroke="#1a1a1a" stroke-width="1.4"/>
<rect x="258.05" y="931.65" width="13.9" height="77.8" fill="#f8c585" stroke="#1a1a1a" stroke-width="1.7"/>
<line x1="305.3" y1="1007.1" x2="305.3" y2="1005.6" stroke="#1a1a1a" stroke-width="1.2"/>
<line x1="301" y1="1005.6" x2="309.6" y2="1005.6" stroke="#1a1a1a" stroke-width="1.4"/>
<rect x="298.45" y="1007.95" width="13.7" height="1.5" fill="#c6c6c6" stroke="#1a1a1a" stroke-width="1.7"/>
<line x1="328.2" y1="994.8" x2="328.2" y2="993.8" stroke="#1a1a1a" stroke-width="1.2"/>
<line x1="323.9" y1="993.8" x2="332.5" y2="993.8" stroke="#1a1a1a" stroke-width="1.4"/>
<rect x="321.25" y="995.65" width="13.9" height="13.8" fill="#f8c585" stroke="#1a1a1a" stroke-width="1.7"/>
<path d="M114.3,980.4 V975.6 H152 V980.4" fill="none" stroke="#555555" stroke-width="1.25"/>
<text x="113.5" y="968.7" font-size="10.2" fill="#1a1a1a" textLength="39.81" lengthAdjust="spacingAndGlyphs" letter-spacing="0.61">p&lt;0.05</text>
<path d="M175.1,901.6 V896.8 H212.7 V901.6" fill="none" stroke="#555555" stroke-width="1.25"/>
<text x="174.6" y="889.9" font-size="10.2" fill="#1a1a1a" textLength="38.71" lengthAdjust="spacingAndGlyphs" letter-spacing="0.53">p&lt;0.01</text>
<path d="M236,878 V872.8 H272.9 V878" fill="none" stroke="#555555" stroke-width="1.25"/>
<text x="236" y="866.9" font-size="10.2" fill="#1a1a1a" textLength="37.83" lengthAdjust="spacingAndGlyphs" letter-spacing="0.47">p&lt;0.01</text>
<path d="M298.6,989.8 V984.6 H335.5 V989.8" fill="none" stroke="#555555" stroke-width="1.25"/>
<text x="296.9" y="979" font-size="10.2" fill="#1a1a1a" textLength="38.6" lengthAdjust="spacingAndGlyphs" letter-spacing="0.52">p&lt;0.01</text>
<rect x="301.1" y="859.3" width="23.5" height="6.4" fill="#c6c6c6" stroke="#1a1a1a" stroke-width="1.8"/>
<rect x="301.1" y="877.7" width="23.5" height="6.7" fill="#f8c585" stroke="#1a1a1a" stroke-width="1.8"/>
<text x="329.8" y="867" font-size="10.8" fill="#1a1a1a" textLength="13.45" lengthAdjust="spacingAndGlyphs" letter-spacing="0.07">E1</text>
<text x="329.8" y="885.6" font-size="10.8" fill="#1a1a1a" textLength="15.3" lengthAdjust="spacingAndGlyphs" letter-spacing="0.59">E2</text>
<text x="106.8" y="1029" font-size="12.4" fill="#1a1a1a" textLength="50.39" lengthAdjust="spacingAndGlyphs" letter-spacing="0.71">sub-G1</text>
<text x="182.3" y="1029" font-size="12.4" fill="#1a1a1a" textLength="19.9" lengthAdjust="spacingAndGlyphs" letter-spacing="0.94">G1</text>
<text x="241" y="1029" font-size="12.4" fill="#1a1a1a" textLength="9.03" lengthAdjust="spacingAndGlyphs">S</text>
<text x="307.7" y="1029" font-size="12.4" fill="#1a1a1a" textLength="21.67" lengthAdjust="spacingAndGlyphs" letter-spacing="1.42">G2</text>
<text transform="translate(45.6,984.6) rotate(-90)" x="-0" font-size="12.6" fill="#1a1a1a" textLength="107.09" lengthAdjust="spacingAndGlyphs">Cell Cycle Phase %,</text>
<text transform="translate(63.6,965.4) rotate(-90)" x="-0" font-size="12.6" fill="#1a1a1a" textLength="66.52" lengthAdjust="spacingAndGlyphs">distribution</text>
<line x1="27.4" y1="1053.4" x2="439" y2="1053.4" stroke="#555" stroke-width="1.1"/>
<g class="b40">
<text x="1.3" y="1076" font-size="20" fill="#1a1a1a" font-weight="bold" textLength="12.84" lengthAdjust="spacingAndGlyphs">C</text>
</g>
<line x1="80.6" y1="1114.2" x2="80.6" y2="1257.4" stroke="#1a1a1a" stroke-width="1.3"/>
<line x1="75.5" y1="1256.6" x2="218.8" y2="1256.6" stroke="#1a1a1a" stroke-width="1.3"/>
<line x1="75.5" y1="1256.6" x2="80.6" y2="1256.6" stroke="#1a1a1a" stroke-width="1.2"/>
<text x="66.3" y="1261" font-size="10.3" fill="#1a1a1a" textLength="6.11" lengthAdjust="spacingAndGlyphs">0</text>
<line x1="75.5" y1="1209.33" x2="80.6" y2="1209.33" stroke="#1a1a1a" stroke-width="1.2"/>
<text x="48" y="1213.73" font-size="10.3" fill="#1a1a1a" textLength="24.6" lengthAdjust="spacingAndGlyphs" letter-spacing="0.2">1000</text>
<line x1="75.5" y1="1162.06" x2="80.6" y2="1162.06" stroke="#1a1a1a" stroke-width="1.2"/>
<text x="48" y="1166.46" font-size="10.3" fill="#1a1a1a" textLength="24.6" lengthAdjust="spacingAndGlyphs" letter-spacing="0.2">2000</text>
<line x1="75.5" y1="1114.79" x2="80.6" y2="1114.79" stroke="#1a1a1a" stroke-width="1.2"/>
<text x="48" y="1119.19" font-size="10.3" fill="#1a1a1a" textLength="24.6" lengthAdjust="spacingAndGlyphs" letter-spacing="0.2">3000</text>
<line x1="97" y1="1256.6" x2="97" y2="1260.6" stroke="#1a1a1a" stroke-width="1.2"/>
<line x1="150.1" y1="1256.6" x2="150.1" y2="1260.6" stroke="#1a1a1a" stroke-width="1.2"/>
<line x1="203.3" y1="1256.6" x2="203.3" y2="1260.6" stroke="#1a1a1a" stroke-width="1.2"/>
<text x="90.4" y="1275.6" font-size="10.6" fill="#1a1a1a" textLength="12.88" lengthAdjust="spacingAndGlyphs">E1</text>
<text x="142.3" y="1275.6" font-size="10.6" fill="#1a1a1a" textLength="14.69" lengthAdjust="spacingAndGlyphs" letter-spacing="0.49">E2</text>
<text x="196" y="1275.6" font-size="10.6" fill="#1a1a1a" textLength="15.56" lengthAdjust="spacingAndGlyphs" letter-spacing="0.73">E3</text>
<path d="M96.9,1132.8 L150.1,1167.6 L203.3,1248.8" fill="none" stroke="#1a1a1a" stroke-width="1.5"/>
<path d="M97,1157.5 L150.4,1218.5 L203.3,1252.5" fill="none" stroke="#1a1a1a" stroke-width="1.5"/>
<circle cx="96.9" cy="1132.8" r="4.5" fill="#fff" stroke="#1a1a1a" stroke-width="1.6"/>
<circle cx="150.1" cy="1167.6" r="4.5" fill="#fff" stroke="#1a1a1a" stroke-width="1.6"/>
<path d="M97,1152.5 L101.3,1161.4 L92.7,1161.4 Z" fill="#fff" stroke="#1a1a1a" stroke-width="1.6" stroke-linejoin="miter" stroke-miterlimit="10"/>
<path d="M150.4,1213.7 L154.7,1222.6 L146.1,1222.6 Z" fill="#fff" stroke="#1a1a1a" stroke-width="1.6" stroke-linejoin="miter" stroke-miterlimit="10"/>
<path d="M203.3,1248 L207.6,1256.4 L199,1256.4 Z" fill="#fff" stroke="#1a1a1a" stroke-width="1.6" stroke-linejoin="miter" stroke-miterlimit="10"/>
<circle cx="203.3" cy="1248.8" r="4.5" fill="#fff" stroke="#1a1a1a" stroke-width="1.6"/>
<text x="173.3" y="1179.2" font-size="12" fill="#1a1a1a" textLength="28.9" lengthAdjust="spacingAndGlyphs" letter-spacing="0.1">Cdk4</text>
<text x="96.6" y="1225.6" font-size="12" fill="#1a1a1a" textLength="28.9" lengthAdjust="spacingAndGlyphs" letter-spacing="0.1">Cdk6</text>
<line x1="177" y1="1196" x2="187.5" y2="1186.1" stroke="#777" stroke-width="0.9"/>
<line x1="114.3" y1="1209.4" x2="124.8" y2="1199" stroke="#777" stroke-width="0.9"/>
<text transform="translate(25.5,1259.6) rotate(-90)" x="-0" font-size="12" fill="#1a1a1a" textLength="153.79" lengthAdjust="spacingAndGlyphs">Transcript Expression Level,</text>
<text transform="translate(41.8,1233.8) rotate(-90)" x="-0" font-size="10.8" fill="#1a1a1a" textLength="102.38" lengthAdjust="spacingAndGlyphs">relative intensities</text>
<line x1="298.6" y1="1115.5" x2="298.6" y2="1256.1" stroke="#1a1a1a" stroke-width="1.3"/>
<line x1="293.5" y1="1255.3" x2="437.9" y2="1255.3" stroke="#1a1a1a" stroke-width="1.3"/>
<line x1="293.5" y1="1255.3" x2="298.6" y2="1255.3" stroke="#1a1a1a" stroke-width="1.2"/>
<text x="285.3" y="1259.7" font-size="10.3" fill="#1a1a1a" textLength="6.01" lengthAdjust="spacingAndGlyphs">0</text>
<line x1="293.5" y1="1220.5" x2="298.6" y2="1220.5" stroke="#1a1a1a" stroke-width="1.2"/>
<text x="273.3" y="1224.9" font-size="10.3" fill="#1a1a1a" textLength="18.15" lengthAdjust="spacingAndGlyphs" letter-spacing="0.16">250</text>
<line x1="293.5" y1="1185.7" x2="298.6" y2="1185.7" stroke="#1a1a1a" stroke-width="1.2"/>
<text x="273.3" y="1190.1" font-size="10.3" fill="#1a1a1a" textLength="18.15" lengthAdjust="spacingAndGlyphs" letter-spacing="0.16">500</text>
<line x1="293.5" y1="1150.9" x2="298.6" y2="1150.9" stroke="#1a1a1a" stroke-width="1.2"/>
<text x="273.3" y="1155.3" font-size="10.3" fill="#1a1a1a" textLength="18.15" lengthAdjust="spacingAndGlyphs" letter-spacing="0.16">750</text>
<line x1="293.5" y1="1116.1" x2="298.6" y2="1116.1" stroke="#1a1a1a" stroke-width="1.2"/>
<text x="267.3" y="1120.5" font-size="10.3" fill="#1a1a1a" textLength="24.15" lengthAdjust="spacingAndGlyphs" letter-spacing="0.14">1000</text>
<line x1="315.8" y1="1255.3" x2="315.8" y2="1259.3" stroke="#1a1a1a" stroke-width="1.2"/>
<line x1="368.1" y1="1255.3" x2="368.1" y2="1259.3" stroke="#1a1a1a" stroke-width="1.2"/>
<line x1="420.6" y1="1255.3" x2="420.6" y2="1259.3" stroke="#1a1a1a" stroke-width="1.2"/>
<text x="308.9" y="1275.6" font-size="10.6" fill="#1a1a1a" textLength="13.13" lengthAdjust="spacingAndGlyphs" letter-spacing="0.05">E1</text>
<text x="361.4" y="1275.6" font-size="10.6" fill="#1a1a1a" textLength="13.83" lengthAdjust="spacingAndGlyphs" letter-spacing="0.25">E2</text>
<text x="415.4" y="1275.6" font-size="10.6" fill="#1a1a1a" textLength="13.55" lengthAdjust="spacingAndGlyphs" letter-spacing="0.17">E3</text>
<path d="M315.8,1211.9 L368.1,1139 L420.6,1176.6" fill="none" stroke="#1a1a1a" stroke-width="1.5"/>
<path d="M315.8,1234.5 L368.1,1195.5 L421.1,1123.5" fill="none" stroke="#1a1a1a" stroke-width="1.5"/>
<circle cx="315.8" cy="1211.9" r="4.5" fill="#fff" stroke="#1a1a1a" stroke-width="1.6"/>
<circle cx="368.1" cy="1139" r="4.5" fill="#fff" stroke="#1a1a1a" stroke-width="1.6"/>
<circle cx="420.6" cy="1176.6" r="4.5" fill="#fff" stroke="#1a1a1a" stroke-width="1.6"/>
<path d="M315.8,1230.1 L320.1,1238.4 L311.5,1238.4 Z" fill="#fff" stroke="#1a1a1a" stroke-width="1.6" stroke-linejoin="miter" stroke-miterlimit="10"/>
<path d="M368.1,1191.3 L372.4,1199.7 L363.8,1199.7 Z" fill="#fff" stroke="#1a1a1a" stroke-width="1.6" stroke-linejoin="miter" stroke-miterlimit="10"/>
<path d="M421.1,1119.3 L425.4,1127.9 L416.8,1127.9 Z" fill="#fff" stroke="#1a1a1a" stroke-width="1.6" stroke-linejoin="miter" stroke-miterlimit="10"/>
<text x="420.3" y="1151.4" font-size="12" fill="#1a1a1a" textLength="20.82" lengthAdjust="spacingAndGlyphs" letter-spacing="0.13">p21</text>
<text x="389" y="1207.2" font-size="12" fill="#1a1a1a" textLength="21.06" lengthAdjust="spacingAndGlyphs" letter-spacing="0.17">p27</text>
<line x1="411.9" y1="1163.1" x2="424.8" y2="1157.2" stroke="#777" stroke-width="0.9"/>
<line x1="386.6" y1="1181.9" x2="396.1" y2="1191.5" stroke="#777" stroke-width="0.9"/>
<text transform="translate(251.7,1259.6) rotate(-90)" x="-0" font-size="12" fill="#1a1a1a" textLength="153.79" lengthAdjust="spacingAndGlyphs">Transcript Expression Level,</text>
<text transform="translate(267.8,1233.8) rotate(-90)" x="-0" font-size="10.8" fill="#1a1a1a" textLength="102.38" lengthAdjust="spacingAndGlyphs">relative intensities</text>
</svg>
</body></html>
